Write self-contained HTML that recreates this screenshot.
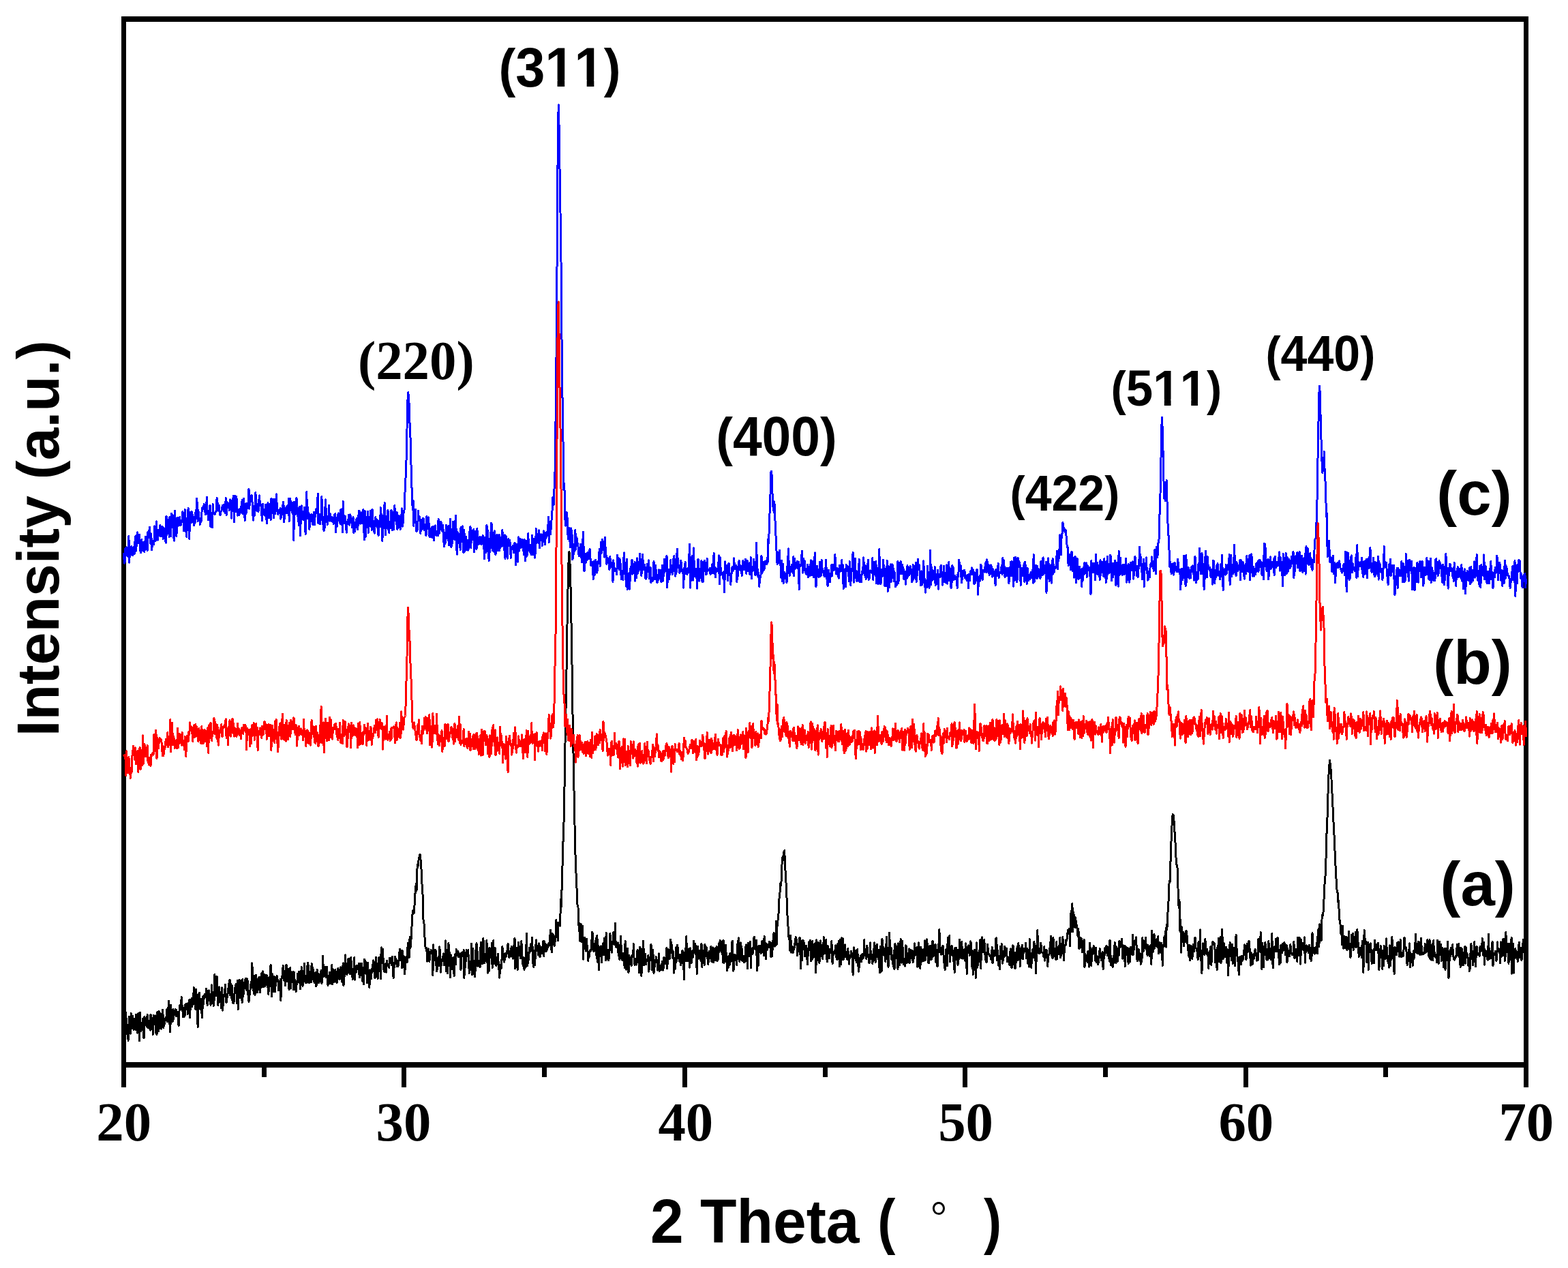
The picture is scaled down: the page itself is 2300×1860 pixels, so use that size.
<!DOCTYPE html>
<html lang="en">
<head>
<meta charset="utf-8">
<title>XRD patterns</title>
<style>
html,body{margin:0;padding:0;background:#fff;}
body{width:2300px;height:1860px;overflow:hidden;}
svg{display:block;}
.sans{font-family:"Liberation Sans",Arial,Helvetica,sans-serif;font-weight:bold;}
.serif{font-family:"Liberation Serif","Times New Roman",Times,serif;font-weight:bold;}
.deg{font-family:"Liberation Serif","Times New Roman",serif;font-weight:normal;}
text{font-kerning:none;}
</style>
</head>
<body>
<svg width="2300" height="1860" viewBox="0 0 2300 1860">
<rect x="0" y="0" width="2300" height="1860" fill="#ffffff"/>
<g id="frame" fill="#000" shape-rendering="crispEdges">
<rect x="178" y="24" width="7" height="1542"/>
<rect x="2235" y="24" width="7" height="1542"/>
<rect x="178" y="24" width="2064" height="8"/>
<rect x="178" y="1558" width="2064" height="8"/>
<rect x="178.0" y="1562" width="7" height="33"/>
<rect x="383.7" y="1562" width="7" height="18"/>
<rect x="589.4" y="1562" width="7" height="33"/>
<rect x="795.1" y="1562" width="7" height="18"/>
<rect x="1000.8" y="1562" width="7" height="33"/>
<rect x="1206.5" y="1562" width="7" height="18"/>
<rect x="1412.2" y="1562" width="7" height="33"/>
<rect x="1617.9" y="1562" width="7" height="18"/>
<rect x="1823.6" y="1562" width="7" height="33"/>
<rect x="2029.3" y="1562" width="7" height="18"/>
<rect x="2235.0" y="1562" width="7" height="33"/>
</g>
<polyline id="curve-a" fill="none" stroke="#000000" stroke-width="3" stroke-linejoin="round" stroke-linecap="butt" shape-rendering="crispEdges" points="181.5,1509.2 182.3,1497.7 183.1,1511.4 184.0,1504.8 184.8,1485.5 185.6,1516.3 186.4,1503.1 187.3,1511.7 188.1,1526.2 188.9,1507.4 189.7,1491.2 190.6,1495.9 191.4,1516.3 192.2,1486.6 193.0,1507.2 193.8,1508.5 194.7,1490.1 195.5,1505.9 196.3,1510.5 197.1,1494.6 198.0,1498.0 198.8,1510.3 199.6,1488.2 200.4,1493.2 201.2,1515.1 202.1,1504.7 202.9,1486.6 203.7,1503.7 204.5,1526.9 205.4,1485.4 206.2,1512.9 207.0,1512.1 207.8,1500.7 208.7,1510.0 209.5,1494.5 210.3,1521.0 211.1,1522.9 211.9,1491.5 212.8,1499.3 213.6,1503.3 214.4,1494.0 215.2,1505.5 216.1,1488.7 216.9,1507.8 217.7,1497.1 218.5,1499.9 219.3,1505.9 220.2,1511.1 221.0,1488.0 221.8,1509.0 222.6,1509.8 223.5,1497.7 224.3,1517.3 225.1,1489.4 225.9,1491.8 226.8,1502.7 227.6,1489.7 228.4,1514.4 229.2,1499.8 230.0,1517.8 230.9,1484.3 231.7,1485.3 232.5,1512.5 233.3,1483.7 234.2,1509.0 235.0,1486.1 235.8,1498.8 236.6,1509.3 237.5,1494.4 238.3,1481.1 239.1,1488.8 239.9,1508.0 240.7,1496.4 241.6,1502.3 242.4,1494.6 243.2,1496.7 244.0,1490.7 244.9,1480.5 245.7,1498.9 246.5,1494.3 247.3,1468.0 248.1,1491.5 249.0,1502.7 249.8,1513.9 250.6,1474.0 251.4,1491.3 252.3,1496.2 253.1,1498.2 253.9,1480.4 254.7,1494.5 255.6,1482.9 256.4,1487.0 257.2,1480.7 258.0,1490.3 258.8,1481.5 259.7,1489.4 260.5,1484.3 261.3,1495.9 262.1,1504.7 263.0,1483.1 263.8,1474.8 264.6,1480.4 265.4,1476.4 266.2,1462.4 267.1,1482.2 267.9,1475.6 268.7,1491.8 269.5,1479.0 270.4,1491.3 271.2,1488.9 272.0,1473.3 272.8,1474.9 273.7,1472.1 274.5,1472.5 275.3,1487.4 276.1,1470.9 276.9,1471.6 277.8,1466.6 278.6,1492.6 279.4,1471.1 280.2,1473.1 281.1,1464.2 281.9,1476.9 282.7,1464.3 283.5,1465.3 284.4,1448.5 285.2,1452.8 286.0,1474.3 286.8,1480.8 287.6,1451.4 288.5,1472.9 289.3,1472.9 290.1,1506.8 290.9,1458.0 291.8,1461.5 292.6,1456.6 293.4,1478.8 294.2,1481.1 295.0,1465.0 295.9,1486.1 296.7,1492.8 297.5,1461.7 298.3,1473.6 299.2,1464.4 300.0,1458.8 300.8,1460.5 301.6,1462.9 302.5,1450.1 303.3,1464.2 304.1,1474.5 304.9,1453.3 305.7,1458.0 306.6,1453.0 307.4,1468.2 308.2,1462.1 309.0,1474.2 309.9,1458.9 310.7,1444.8 311.5,1468.9 312.3,1458.2 313.1,1475.2 314.0,1469.8 314.8,1429.3 315.6,1436.9 316.4,1460.6 317.3,1450.9 318.1,1432.7 318.9,1452.9 319.7,1474.5 320.6,1466.4 321.4,1447.8 322.2,1461.6 323.0,1470.1 323.8,1455.5 324.7,1478.7 325.5,1448.7 326.3,1482.2 327.1,1475.1 328.0,1462.7 328.8,1459.0 329.6,1456.5 330.4,1444.6 331.2,1467.4 332.1,1470.7 332.9,1464.6 333.7,1458.4 334.5,1456.1 335.4,1443.5 336.2,1446.6 337.0,1436.9 337.8,1459.9 338.7,1443.0 339.5,1463.7 340.3,1445.5 341.1,1470.3 341.9,1471.9 342.8,1471.3 343.6,1466.4 344.4,1448.8 345.2,1448.5 346.1,1443.3 346.9,1455.9 347.7,1471.8 348.5,1438.5 349.4,1480.4 350.2,1444.3 351.0,1436.9 351.8,1454.8 352.6,1463.5 353.5,1446.1 354.3,1437.9 355.1,1471.0 355.9,1436.6 356.8,1461.5 357.6,1451.2 358.4,1444.7 359.2,1449.6 360.0,1435.7 360.9,1435.3 361.7,1452.1 362.5,1435.8 363.3,1438.8 364.2,1465.2 365.0,1469.2 365.8,1460.7 366.6,1458.0 367.5,1444.0 368.3,1448.0 369.1,1437.8 369.9,1412.8 370.7,1448.7 371.6,1448.8 372.4,1457.8 373.2,1431.3 374.0,1459.3 374.9,1438.9 375.7,1430.3 376.5,1441.8 377.3,1455.9 378.1,1444.4 379.0,1449.7 379.8,1433.6 380.6,1449.7 381.4,1455.6 382.3,1433.0 383.1,1448.5 383.9,1427.1 384.7,1445.8 385.6,1424.9 386.4,1447.6 387.2,1442.5 388.0,1428.9 388.8,1446.5 389.7,1430.2 390.5,1442.8 391.3,1430.7 392.1,1447.9 393.0,1434.6 393.8,1458.3 394.6,1446.4 395.4,1447.2 396.3,1424.7 397.1,1415.5 397.9,1430.7 398.7,1461.8 399.5,1428.7 400.4,1454.4 401.2,1454.7 402.0,1432.4 402.8,1436.7 403.7,1454.8 404.5,1435.9 405.3,1433.9 406.1,1431.7 406.9,1439.3 407.8,1436.9 408.6,1452.8 409.4,1440.7 410.2,1451.8 411.1,1436.2 411.9,1467.4 412.7,1435.8 413.5,1435.2 414.4,1427.2 415.2,1416.4 416.0,1426.1 416.8,1438.8 417.6,1424.2 418.5,1445.9 419.3,1416.3 420.1,1415.6 420.9,1439.1 421.8,1439.9 422.6,1421.6 423.4,1448.0 424.2,1451.4 425.0,1439.1 425.9,1419.2 426.7,1449.4 427.5,1430.9 428.3,1432.1 429.2,1439.9 430.0,1425.6 430.8,1451.9 431.6,1426.3 432.5,1446.4 433.3,1442.8 434.1,1454.6 434.9,1439.4 435.7,1443.6 436.6,1428.5 437.4,1430.3 438.2,1425.8 439.0,1442.0 439.9,1425.1 440.7,1450.9 441.5,1431.4 442.3,1418.5 443.2,1424.6 444.0,1446.4 444.8,1426.7 445.6,1439.4 446.4,1413.4 447.3,1437.6 448.1,1441.3 448.9,1438.1 449.7,1441.4 450.6,1420.2 451.4,1412.1 452.2,1416.1 453.0,1441.7 453.8,1436.4 454.7,1441.2 455.5,1424.8 456.3,1441.0 457.1,1413.0 458.0,1436.2 458.8,1418.8 459.6,1426.0 460.4,1438.9 461.3,1441.4 462.1,1429.0 462.9,1426.6 463.7,1446.9 464.5,1443.1 465.4,1422.6 466.2,1434.0 467.0,1428.0 467.8,1442.0 468.7,1435.8 469.5,1435.4 470.3,1431.3 471.1,1423.7 471.9,1443.1 472.8,1434.9 473.6,1402.4 474.4,1425.3 475.2,1432.9 476.1,1420.9 476.9,1418.6 477.7,1421.9 478.5,1433.6 479.4,1418.0 480.2,1433.6 481.0,1445.3 481.8,1440.4 482.6,1440.7 483.5,1426.4 484.3,1443.0 485.1,1429.1 485.9,1439.2 486.8,1415.2 487.6,1443.5 488.4,1421.6 489.2,1428.8 490.1,1440.9 490.9,1428.3 491.7,1422.6 492.5,1426.2 493.3,1441.0 494.2,1441.1 495.0,1435.7 495.8,1420.2 496.6,1422.8 497.5,1435.4 498.3,1436.3 499.1,1418.9 499.9,1418.9 500.7,1435.5 501.6,1440.1 502.4,1428.0 503.2,1412.8 504.0,1445.8 504.9,1427.2 505.7,1432.2 506.5,1401.0 507.3,1417.8 508.2,1424.0 509.0,1429.9 509.8,1415.4 510.6,1407.6 511.4,1406.1 512.3,1421.0 513.1,1428.9 513.9,1428.2 514.7,1404.6 515.6,1416.6 516.4,1423.7 517.2,1436.5 518.0,1431.2 518.8,1427.6 519.7,1404.5 520.5,1437.2 521.3,1423.1 522.1,1426.7 523.0,1416.0 523.8,1421.5 524.6,1419.8 525.4,1418.8 526.3,1413.1 527.1,1431.4 527.9,1434.0 528.7,1416.8 529.5,1413.2 530.4,1413.2 531.2,1419.2 532.0,1439.5 532.8,1420.9 533.7,1443.9 534.5,1407.2 535.3,1409.1 536.1,1412.5 536.9,1411.5 537.8,1425.3 538.6,1441.9 539.4,1412.4 540.2,1425.0 541.1,1436.5 541.9,1449.0 542.7,1422.9 543.5,1431.9 544.4,1435.8 545.2,1421.1 546.0,1426.5 546.8,1415.5 547.6,1409.0 548.5,1412.3 549.3,1432.7 550.1,1434.8 550.9,1421.7 551.8,1404.1 552.6,1432.9 553.4,1418.2 554.2,1435.7 555.1,1419.0 555.9,1404.0 556.7,1414.1 557.5,1409.3 558.3,1435.8 559.2,1389.9 560.0,1409.6 560.8,1412.7 561.6,1392.0 562.5,1421.0 563.3,1423.0 564.1,1425.6 564.9,1425.1 565.7,1413.9 566.6,1426.0 567.4,1409.3 568.2,1414.7 569.0,1416.7 569.9,1414.7 570.7,1419.6 571.5,1405.6 572.3,1411.6 573.2,1405.8 574.0,1413.3 574.8,1415.9 575.6,1403.1 576.4,1428.8 577.3,1434.4 578.1,1417.8 578.9,1412.0 579.7,1403.2 580.6,1408.3 581.4,1407.5 582.2,1417.9 583.0,1409.3 583.8,1417.4 584.7,1415.4 585.5,1402.7 586.3,1392.3 587.1,1393.6 588.0,1394.5 588.8,1406.3 589.6,1420.0 590.4,1394.6 591.3,1412.5 592.1,1402.0 592.9,1418.1 593.7,1428.7 594.5,1413.7 595.4,1403.8 596.2,1404.3 597.0,1411.9 597.8,1391.1 598.7,1383.1 599.5,1391.3 600.3,1404.5 601.1,1374.2 602.0,1390.5 602.8,1382.8 603.6,1365.0 604.4,1352.7 605.2,1337.3 606.1,1335.1 606.9,1340.1 607.7,1336.5 608.5,1315.4 609.4,1306.8 610.2,1296.3 611.0,1306.5 611.8,1275.9 612.6,1268.2 613.5,1270.3 614.3,1258.0 615.1,1258.7 615.9,1253.0 616.8,1257.8 617.6,1270.0 618.4,1279.8 619.2,1301.6 620.1,1313.1 620.9,1348.6 621.7,1352.5 622.5,1358.2 623.3,1383.9 624.2,1390.8 625.0,1391.4 625.8,1390.8 626.6,1410.1 627.5,1392.9 628.3,1391.9 629.1,1400.3 629.9,1410.3 630.7,1400.2 631.6,1397.8 632.4,1393.6 633.2,1396.7 634.0,1398.6 634.9,1430.5 635.7,1385.8 636.5,1401.8 637.3,1408.2 638.2,1397.1 639.0,1393.6 639.8,1414.5 640.6,1424.5 641.4,1421.3 642.3,1408.5 643.1,1403.1 643.9,1416.3 644.7,1388.8 645.6,1398.5 646.4,1426.2 647.2,1413.8 648.0,1410.7 648.9,1406.6 649.7,1404.3 650.5,1398.8 651.3,1415.9 652.1,1415.1 653.0,1415.3 653.8,1379.9 654.6,1424.5 655.4,1419.5 656.3,1428.0 657.1,1402.6 657.9,1383.3 658.7,1393.8 659.5,1398.8 660.4,1433.5 661.2,1400.4 662.0,1403.9 662.8,1421.5 663.7,1420.3 664.5,1421.2 665.3,1404.0 666.1,1432.0 667.0,1414.4 667.8,1399.5 668.6,1414.5 669.4,1392.7 670.2,1394.7 671.1,1401.5 671.9,1395.4 672.7,1403.7 673.5,1401.8 674.4,1404.0 675.2,1399.2 676.0,1423.0 676.8,1397.6 677.6,1403.1 678.5,1398.5 679.3,1402.3 680.1,1393.8 680.9,1434.5 681.8,1405.9 682.6,1418.9 683.4,1404.5 684.2,1393.2 685.1,1402.5 685.9,1400.3 686.7,1393.6 687.5,1409.5 688.3,1427.4 689.2,1410.1 690.0,1420.1 690.8,1423.0 691.6,1384.1 692.5,1429.9 693.3,1391.1 694.1,1428.7 694.9,1409.1 695.8,1413.5 696.6,1432.6 697.4,1418.5 698.2,1386.5 699.0,1383.9 699.9,1390.9 700.7,1417.2 701.5,1408.8 702.3,1415.6 703.2,1409.8 704.0,1419.1 704.8,1392.0 705.6,1382.2 706.4,1396.1 707.3,1413.9 708.1,1392.0 708.9,1376.0 709.7,1397.6 710.6,1412.4 711.4,1409.2 712.2,1400.2 713.0,1398.3 713.9,1379.2 714.7,1404.2 715.5,1427.2 716.3,1398.7 717.1,1424.3 718.0,1390.0 718.8,1400.0 719.6,1399.3 720.4,1404.9 721.3,1383.7 722.1,1419.6 722.9,1401.6 723.7,1379.6 724.5,1413.4 725.4,1407.5 726.2,1390.7 727.0,1404.8 727.8,1416.2 728.7,1415.1 729.5,1411.1 730.3,1399.3 731.1,1411.0 732.0,1423.3 732.8,1434.2 733.6,1416.0 734.4,1418.4 735.2,1420.5 736.1,1405.9 736.9,1388.0 737.7,1402.1 738.5,1406.4 739.4,1411.1 740.2,1407.9 741.0,1398.6 741.8,1400.2 742.6,1403.3 743.5,1395.1 744.3,1395.1 745.1,1383.9 745.9,1399.7 746.8,1404.7 747.6,1395.1 748.4,1399.3 749.2,1403.1 750.1,1388.6 750.9,1393.6 751.7,1390.1 752.5,1406.2 753.3,1387.1 754.2,1400.7 755.0,1375.9 755.8,1420.9 756.6,1406.5 757.5,1390.2 758.3,1399.2 759.1,1422.6 759.9,1401.1 760.8,1382.1 761.6,1399.4 762.4,1394.0 763.2,1406.0 764.0,1401.9 764.9,1380.7 765.7,1402.8 766.5,1411.6 767.3,1416.8 768.2,1404.1 769.0,1422.2 769.8,1417.2 770.6,1409.0 771.4,1418.1 772.3,1369.2 773.1,1414.2 773.9,1416.3 774.7,1397.5 775.6,1408.3 776.4,1390.3 777.2,1395.9 778.0,1395.4 778.9,1384.7 779.7,1394.3 780.5,1375.3 781.3,1394.5 782.1,1416.2 783.0,1418.2 783.8,1394.9 784.6,1415.7 785.4,1399.4 786.3,1378.8 787.1,1386.3 787.9,1392.7 788.7,1392.8 789.5,1400.5 790.4,1383.8 791.2,1387.0 792.0,1404.0 792.8,1392.8 793.7,1395.7 794.5,1389.7 795.3,1398.5 796.1,1398.7 797.0,1380.0 797.8,1402.6 798.6,1380.8 799.4,1392.3 800.2,1384.1 801.1,1395.2 801.9,1390.1 802.7,1393.2 803.5,1387.5 804.4,1383.9 805.2,1387.2 806.0,1384.0 806.8,1373.7 807.7,1364.3 808.5,1388.7 809.3,1397.0 810.1,1369.2 810.9,1386.0 811.8,1371.7 812.6,1380.2 813.4,1387.4 814.2,1379.9 815.1,1371.3 815.9,1349.2 816.7,1368.0 817.5,1367.7 818.3,1379.9 819.2,1353.2 820.0,1355.7 820.8,1353.2 821.6,1358.2 822.5,1319.1 823.3,1330.0 824.1,1302.5 824.9,1275.0 825.8,1241.4 826.6,1215.0 827.4,1197.7 828.2,1141.2 829.0,1090.2 829.9,1044.4 830.7,1004.1 831.5,947.6 832.3,896.6 833.2,855.1 834.0,824.9 834.8,809.5 835.6,812.8 836.4,839.8 837.3,871.8 838.1,918.6 838.9,966.3 839.7,1026.8 840.6,1087.3 841.4,1120.9 842.2,1171.4 843.0,1210.1 843.9,1250.9 844.7,1271.7 845.5,1295.5 846.3,1306.7 847.1,1328.8 848.0,1331.2 848.8,1357.3 849.6,1353.7 850.4,1380.1 851.3,1356.6 852.1,1355.7 852.9,1381.4 853.7,1380.3 854.6,1358.3 855.4,1407.2 856.2,1375.6 857.0,1392.1 857.8,1375.3 858.7,1389.2 859.5,1395.1 860.3,1377.0 861.1,1387.7 862.0,1394.7 862.8,1409.4 863.6,1397.4 864.4,1403.0 865.2,1393.9 866.1,1395.8 866.9,1394.8 867.7,1386.1 868.5,1367.2 869.4,1369.4 870.2,1394.0 871.0,1395.9 871.8,1391.3 872.7,1383.9 873.5,1385.2 874.3,1376.3 875.1,1405.7 875.9,1372.1 876.8,1411.7 877.6,1387.3 878.4,1423.0 879.2,1398.8 880.1,1389.5 880.9,1394.9 881.7,1387.9 882.5,1411.9 883.3,1393.6 884.2,1396.8 885.0,1383.6 885.8,1401.0 886.6,1376.3 887.5,1386.0 888.3,1408.7 889.1,1368.8 889.9,1396.7 890.8,1406.7 891.6,1393.5 892.4,1408.9 893.2,1405.6 894.0,1395.6 894.9,1369.7 895.7,1381.9 896.5,1382.5 897.3,1397.2 898.2,1383.2 899.0,1380.0 899.8,1367.5 900.6,1380.2 901.5,1385.4 902.3,1354.2 903.1,1383.4 903.9,1389.8 904.7,1383.5 905.6,1386.3 906.4,1382.8 907.2,1401.6 908.0,1385.9 908.9,1407.9 909.7,1399.2 910.5,1373.4 911.3,1393.5 912.1,1401.3 913.0,1408.7 913.8,1400.8 914.6,1398.5 915.4,1410.2 916.3,1419.9 917.1,1380.0 917.9,1394.4 918.7,1422.2 919.6,1405.9 920.4,1391.2 921.2,1423.5 922.0,1426.8 922.8,1401.0 923.7,1412.9 924.5,1404.4 925.3,1408.7 926.1,1416.2 927.0,1401.6 927.8,1404.0 928.6,1401.4 929.4,1384.7 930.2,1410.7 931.1,1415.3 931.9,1407.4 932.7,1406.1 933.5,1415.3 934.4,1397.4 935.2,1393.3 936.0,1411.3 936.8,1407.8 937.7,1426.8 938.5,1389.2 939.3,1405.6 940.1,1391.6 940.9,1431.6 941.8,1401.5 942.6,1415.5 943.4,1380.0 944.2,1395.0 945.1,1415.6 945.9,1401.7 946.7,1399.3 947.5,1414.8 948.3,1408.1 949.2,1408.3 950.0,1410.0 950.8,1401.2 951.6,1425.2 952.5,1419.2 953.3,1405.5 954.1,1402.8 954.9,1385.2 955.8,1393.8 956.6,1423.0 957.4,1393.3 958.2,1402.4 959.0,1427.2 959.9,1420.1 960.7,1411.5 961.5,1412.3 962.3,1403.7 963.2,1409.6 964.0,1408.0 964.8,1423.2 965.6,1416.6 966.5,1398.9 967.3,1424.3 968.1,1417.6 968.9,1420.9 969.7,1422.6 970.6,1416.9 971.4,1410.1 972.2,1423.1 973.0,1421.4 973.9,1404.7 974.7,1405.5 975.5,1410.5 976.3,1413.4 977.1,1406.6 978.0,1390.6 978.8,1420.9 979.6,1398.8 980.4,1392.8 981.3,1396.3 982.1,1406.7 982.9,1403.1 983.7,1378.3 984.6,1386.9 985.4,1386.2 986.2,1395.8 987.0,1406.0 987.8,1396.6 988.7,1427.2 989.5,1414.3 990.3,1421.1 991.1,1412.4 992.0,1388.9 992.8,1409.3 993.6,1386.1 994.4,1391.6 995.2,1405.9 996.1,1403.7 996.9,1410.4 997.7,1400.0 998.5,1415.6 999.4,1412.4 1000.2,1406.9 1001.0,1394.2 1001.8,1395.7 1002.7,1415.0 1003.5,1436.4 1004.3,1397.0 1005.1,1404.5 1005.9,1392.0 1006.8,1373.3 1007.6,1409.4 1008.4,1403.9 1009.2,1410.0 1010.1,1394.4 1010.9,1391.9 1011.7,1419.2 1012.5,1390.7 1013.4,1409.7 1014.2,1412.7 1015.0,1401.3 1015.8,1394.7 1016.6,1404.1 1017.5,1380.4 1018.3,1397.8 1019.1,1396.7 1019.9,1384.4 1020.8,1397.6 1021.6,1411.5 1022.4,1428.3 1023.2,1388.0 1024.0,1406.2 1024.9,1406.0 1025.7,1397.5 1026.5,1394.3 1027.3,1406.9 1028.2,1409.6 1029.0,1384.1 1029.8,1418.8 1030.6,1399.3 1031.5,1402.2 1032.3,1394.2 1033.1,1415.4 1033.9,1385.2 1034.7,1395.2 1035.6,1402.4 1036.4,1389.9 1037.2,1397.8 1038.0,1406.6 1038.9,1414.4 1039.7,1398.5 1040.5,1395.1 1041.3,1406.0 1042.1,1401.8 1043.0,1388.3 1043.8,1410.6 1044.6,1397.1 1045.4,1389.9 1046.3,1411.8 1047.1,1407.1 1047.9,1391.2 1048.7,1408.3 1049.6,1392.1 1050.4,1393.7 1051.2,1388.4 1052.0,1410.1 1052.8,1398.4 1053.7,1406.9 1054.5,1384.6 1055.3,1394.7 1056.1,1379.8 1057.0,1391.8 1057.8,1394.6 1058.6,1396.9 1059.4,1380.9 1060.3,1411.3 1061.1,1379.5 1061.9,1412.7 1062.7,1397.1 1063.5,1410.9 1064.4,1386.4 1065.2,1399.7 1066.0,1405.0 1066.8,1423.9 1067.7,1403.2 1068.5,1419.1 1069.3,1402.6 1070.1,1415.2 1070.9,1398.7 1071.8,1400.0 1072.6,1410.1 1073.4,1384.3 1074.2,1380.0 1075.1,1401.2 1075.9,1424.2 1076.7,1416.3 1077.5,1400.2 1078.4,1406.4 1079.2,1401.6 1080.0,1403.6 1080.8,1415.7 1081.6,1385.3 1082.5,1384.7 1083.3,1375.8 1084.1,1388.2 1084.9,1410.5 1085.8,1397.5 1086.6,1382.7 1087.4,1390.4 1088.2,1392.2 1089.0,1409.8 1089.9,1403.3 1090.7,1402.2 1091.5,1411.9 1092.3,1403.7 1093.2,1410.3 1094.0,1387.9 1094.8,1386.0 1095.6,1392.6 1096.5,1420.9 1097.3,1383.3 1098.1,1398.7 1098.9,1402.5 1099.7,1384.9 1100.6,1381.4 1101.4,1420.0 1102.2,1393.9 1103.0,1391.1 1103.9,1399.5 1104.7,1396.3 1105.5,1377.8 1106.3,1374.0 1107.2,1391.9 1108.0,1384.8 1108.8,1393.2 1109.6,1379.6 1110.4,1423.9 1111.3,1398.9 1112.1,1417.1 1112.9,1387.6 1113.7,1392.1 1114.6,1387.6 1115.4,1394.2 1116.2,1398.5 1117.0,1387.2 1117.8,1380.5 1118.7,1384.6 1119.5,1390.1 1120.3,1401.9 1121.1,1373.4 1122.0,1382.1 1122.8,1395.6 1123.6,1406.4 1124.4,1384.9 1125.3,1393.2 1126.1,1386.9 1126.9,1385.7 1127.7,1389.9 1128.5,1381.3 1129.4,1384.1 1130.2,1382.6 1131.0,1403.7 1131.8,1384.1 1132.7,1402.6 1133.5,1380.3 1134.3,1381.7 1135.1,1368.0 1135.9,1377.3 1136.8,1388.1 1137.6,1386.6 1138.4,1351.5 1139.2,1385.9 1140.1,1355.7 1140.9,1350.6 1141.7,1347.2 1142.5,1328.7 1143.4,1310.8 1144.2,1308.6 1145.0,1294.7 1145.8,1298.5 1146.6,1276.3 1147.5,1257.7 1148.3,1262.5 1149.1,1254.2 1149.9,1249.9 1150.8,1247.8 1151.6,1274.3 1152.4,1279.4 1153.2,1299.5 1154.0,1316.9 1154.9,1341.4 1155.7,1352.9 1156.5,1368.3 1157.3,1378.1 1158.2,1378.2 1159.0,1394.7 1159.8,1372.1 1160.6,1397.1 1161.5,1391.8 1162.3,1388.8 1163.1,1397.9 1163.9,1393.0 1164.7,1393.1 1165.6,1385.6 1166.4,1381.5 1167.2,1374.3 1168.0,1377.3 1168.9,1384.7 1169.7,1401.9 1170.5,1389.9 1171.3,1394.4 1172.2,1380.4 1173.0,1375.0 1173.8,1394.1 1174.6,1420.6 1175.4,1380.1 1176.3,1408.9 1177.1,1379.6 1177.9,1379.1 1178.7,1382.4 1179.6,1383.2 1180.4,1402.9 1181.2,1395.5 1182.0,1394.2 1182.8,1387.0 1183.7,1404.0 1184.5,1414.7 1185.3,1396.9 1186.1,1389.3 1187.0,1381.4 1187.8,1390.0 1188.6,1379.3 1189.4,1409.8 1190.3,1385.3 1191.1,1407.9 1191.9,1380.2 1192.7,1404.8 1193.5,1401.7 1194.4,1403.9 1195.2,1398.6 1196.0,1382.9 1196.8,1427.0 1197.7,1378.8 1198.5,1408.4 1199.3,1393.2 1200.1,1382.5 1200.9,1404.7 1201.8,1412.3 1202.6,1407.5 1203.4,1379.9 1204.2,1386.7 1205.1,1402.2 1205.9,1400.2 1206.7,1406.5 1207.5,1393.0 1208.4,1374.6 1209.2,1380.8 1210.0,1398.2 1210.8,1382.7 1211.6,1378.6 1212.5,1401.9 1213.3,1410.9 1214.1,1387.2 1214.9,1392.6 1215.8,1393.5 1216.6,1405.7 1217.4,1392.0 1218.2,1392.0 1219.1,1394.5 1219.9,1380.7 1220.7,1410.6 1221.5,1413.4 1222.3,1396.0 1223.2,1396.9 1224.0,1398.1 1224.8,1396.0 1225.6,1386.9 1226.5,1403.6 1227.3,1404.3 1228.1,1407.9 1228.9,1384.3 1229.7,1398.0 1230.6,1380.5 1231.4,1417.5 1232.2,1378.1 1233.0,1394.4 1233.9,1414.5 1234.7,1375.9 1235.5,1397.7 1236.3,1376.7 1237.2,1407.4 1238.0,1392.4 1238.8,1389.9 1239.6,1385.9 1240.4,1403.4 1241.3,1399.0 1242.1,1405.9 1242.9,1407.7 1243.7,1391.5 1244.6,1401.8 1245.4,1414.2 1246.2,1405.3 1247.0,1404.5 1247.8,1401.3 1248.7,1395.1 1249.5,1400.9 1250.3,1400.2 1251.1,1430.2 1252.0,1398.0 1252.8,1389.8 1253.6,1406.0 1254.4,1399.0 1255.3,1394.4 1256.1,1411.5 1256.9,1399.9 1257.7,1392.6 1258.5,1408.9 1259.4,1425.2 1260.2,1417.7 1261.0,1405.3 1261.8,1405.9 1262.7,1401.9 1263.5,1410.7 1264.3,1399.9 1265.1,1406.5 1266.0,1400.4 1266.8,1404.7 1267.6,1378.7 1268.4,1402.0 1269.2,1395.5 1270.1,1398.2 1270.9,1406.5 1271.7,1387.1 1272.5,1391.7 1273.4,1403.9 1274.2,1402.6 1275.0,1412.6 1275.8,1405.9 1276.6,1382.9 1277.5,1406.6 1278.3,1400.0 1279.1,1403.4 1279.9,1413.6 1280.8,1403.0 1281.6,1399.4 1282.4,1382.9 1283.2,1396.5 1284.1,1411.3 1284.9,1407.9 1285.7,1387.3 1286.5,1385.4 1287.3,1397.0 1288.2,1406.9 1289.0,1392.9 1289.8,1417.5 1290.6,1426.6 1291.5,1388.3 1292.3,1425.4 1293.1,1424.3 1293.9,1377.4 1294.7,1382.0 1295.6,1399.4 1296.4,1401.2 1297.2,1391.1 1298.0,1401.1 1298.9,1410.3 1299.7,1390.6 1300.5,1374.4 1301.3,1397.2 1302.2,1410.3 1303.0,1418.3 1303.8,1413.5 1304.6,1368.2 1305.4,1386.7 1306.3,1399.5 1307.1,1390.7 1307.9,1407.3 1308.7,1406.2 1309.6,1411.3 1310.4,1417.9 1311.2,1394.6 1312.0,1422.0 1312.8,1384.6 1313.7,1388.6 1314.5,1388.2 1315.3,1390.7 1316.1,1409.2 1317.0,1421.2 1317.8,1383.8 1318.6,1410.1 1319.4,1415.7 1320.3,1404.9 1321.1,1377.5 1321.9,1406.9 1322.7,1412.3 1323.5,1380.4 1324.4,1395.8 1325.2,1414.3 1326.0,1405.9 1326.8,1415.3 1327.7,1417.1 1328.5,1386.9 1329.3,1387.6 1330.1,1412.6 1331.0,1397.9 1331.8,1412.0 1332.6,1408.4 1333.4,1391.8 1334.2,1412.6 1335.1,1406.7 1335.9,1393.7 1336.7,1395.0 1337.5,1394.1 1338.4,1404.3 1339.2,1411.9 1340.0,1406.9 1340.8,1398.2 1341.6,1383.7 1342.5,1401.2 1343.3,1398.7 1344.1,1392.0 1344.9,1389.1 1345.8,1418.2 1346.6,1417.5 1347.4,1382.8 1348.2,1411.0 1349.1,1403.9 1349.9,1420.6 1350.7,1389.3 1351.5,1410.7 1352.3,1392.3 1353.2,1396.0 1354.0,1401.2 1354.8,1409.9 1355.6,1400.1 1356.5,1380.0 1357.3,1408.3 1358.1,1398.3 1358.9,1395.5 1359.7,1377.8 1360.6,1393.0 1361.4,1412.0 1362.2,1413.0 1363.0,1403.7 1363.9,1387.6 1364.7,1407.3 1365.5,1387.9 1366.3,1407.5 1367.2,1391.7 1368.0,1379.9 1368.8,1403.2 1369.6,1400.4 1370.4,1400.4 1371.3,1387.3 1372.1,1385.5 1372.9,1411.2 1373.7,1397.3 1374.6,1417.3 1375.4,1417.3 1376.2,1385.0 1377.0,1393.5 1377.9,1363.1 1378.7,1396.7 1379.5,1389.7 1380.3,1400.2 1381.1,1393.4 1382.0,1391.1 1382.8,1387.7 1383.6,1388.2 1384.4,1411.9 1385.3,1405.1 1386.1,1423.1 1386.9,1406.9 1387.7,1392.8 1388.5,1391.8 1389.4,1416.8 1390.2,1375.1 1391.0,1398.7 1391.8,1395.6 1392.7,1372.6 1393.5,1410.6 1394.3,1397.9 1395.1,1395.1 1396.0,1387.4 1396.8,1397.1 1397.6,1396.1 1398.4,1409.8 1399.2,1393.8 1400.1,1426.7 1400.9,1390.7 1401.7,1399.6 1402.5,1390.3 1403.4,1408.1 1404.2,1393.0 1405.0,1415.3 1405.8,1410.3 1406.6,1403.3 1407.5,1378.4 1408.3,1398.1 1409.1,1397.2 1409.9,1405.6 1410.8,1381.3 1411.6,1405.7 1412.4,1406.2 1413.2,1397.1 1414.1,1401.4 1414.9,1392.1 1415.7,1409.2 1416.5,1383.8 1417.3,1389.8 1418.2,1428.5 1419.0,1397.2 1419.8,1397.5 1420.6,1386.9 1421.5,1395.0 1422.3,1401.3 1423.1,1384.1 1423.9,1380.9 1424.8,1393.3 1425.6,1417.4 1426.4,1394.9 1427.2,1429.5 1428.0,1413.1 1428.9,1406.4 1429.7,1393.1 1430.5,1405.0 1431.3,1434.3 1432.2,1382.9 1433.0,1403.6 1433.8,1419.2 1434.6,1410.8 1435.4,1400.5 1436.3,1393.8 1437.1,1410.2 1437.9,1378.0 1438.7,1420.5 1439.6,1388.8 1440.4,1374.9 1441.2,1395.0 1442.0,1396.7 1442.9,1394.2 1443.7,1378.7 1444.5,1389.2 1445.3,1407.3 1446.1,1402.6 1447.0,1412.1 1447.8,1400.3 1448.6,1385.4 1449.4,1394.7 1450.3,1399.3 1451.1,1401.2 1451.9,1402.2 1452.7,1401.8 1453.5,1406.9 1454.4,1407.4 1455.2,1389.1 1456.0,1412.5 1456.8,1406.7 1457.7,1394.5 1458.5,1401.1 1459.3,1396.2 1460.1,1401.2 1461.0,1376.4 1461.8,1376.0 1462.6,1408.6 1463.4,1394.2 1464.2,1414.9 1465.1,1416.7 1465.9,1402.7 1466.7,1421.6 1467.5,1388.1 1468.4,1401.8 1469.2,1384.3 1470.0,1401.8 1470.8,1413.2 1471.7,1401.9 1472.5,1403.6 1473.3,1388.0 1474.1,1402.9 1474.9,1390.6 1475.8,1401.2 1476.6,1391.2 1477.4,1410.9 1478.2,1407.2 1479.1,1404.8 1479.9,1409.9 1480.7,1415.4 1481.5,1400.3 1482.3,1391.8 1483.2,1392.8 1484.0,1420.0 1484.8,1404.5 1485.6,1386.9 1486.5,1387.6 1487.3,1414.5 1488.1,1397.1 1488.9,1420.7 1489.8,1418.2 1490.6,1396.9 1491.4,1396.4 1492.2,1388.7 1493.0,1408.8 1493.9,1383.0 1494.7,1404.7 1495.5,1394.8 1496.3,1417.4 1497.2,1394.8 1498.0,1389.8 1498.8,1406.0 1499.6,1386.6 1500.4,1406.9 1501.3,1395.0 1502.1,1391.5 1502.9,1394.6 1503.7,1395.5 1504.6,1383.5 1505.4,1405.4 1506.2,1397.6 1507.0,1391.2 1507.9,1414.1 1508.7,1401.5 1509.5,1418.3 1510.3,1377.5 1511.1,1415.2 1512.0,1400.9 1512.8,1419.5 1513.6,1400.6 1514.4,1393.9 1515.3,1392.2 1516.1,1404.5 1516.9,1381.0 1517.7,1395.3 1518.5,1387.6 1519.4,1427.5 1520.2,1405.8 1521.0,1396.3 1521.8,1364.2 1522.7,1397.9 1523.5,1391.7 1524.3,1398.2 1525.1,1399.0 1526.0,1390.0 1526.8,1383.1 1527.6,1395.0 1528.4,1397.0 1529.2,1397.8 1530.1,1398.2 1530.9,1403.5 1531.7,1388.6 1532.5,1409.1 1533.4,1393.8 1534.2,1400.7 1535.0,1393.2 1535.8,1401.7 1536.7,1417.5 1537.5,1404.5 1538.3,1400.6 1539.1,1400.1 1539.9,1391.6 1540.8,1383.7 1541.6,1373.4 1542.4,1399.4 1543.2,1404.0 1544.1,1406.0 1544.9,1374.9 1545.7,1387.6 1546.5,1402.2 1547.3,1391.8 1548.2,1405.4 1549.0,1407.8 1549.8,1381.2 1550.6,1406.6 1551.5,1395.0 1552.3,1389.9 1553.1,1399.4 1553.9,1387.5 1554.8,1375.2 1555.6,1404.7 1556.4,1400.6 1557.2,1399.8 1558.0,1394.7 1558.9,1374.8 1559.7,1390.4 1560.5,1408.9 1561.3,1392.4 1562.2,1386.4 1563.0,1386.9 1563.8,1379.0 1564.6,1379.3 1565.4,1376.0 1566.3,1364.6 1567.1,1366.7 1567.9,1364.8 1568.7,1362.1 1569.6,1387.5 1570.4,1350.2 1571.2,1336.4 1572.0,1346.8 1572.9,1325.5 1573.7,1366.8 1574.5,1337.7 1575.3,1343.6 1576.1,1349.6 1577.0,1360.6 1577.8,1345.9 1578.6,1360.3 1579.4,1357.1 1580.3,1362.9 1581.1,1374.0 1581.9,1362.5 1582.7,1391.3 1583.6,1375.4 1584.4,1390.2 1585.2,1375.4 1586.0,1384.1 1586.8,1376.9 1587.7,1397.0 1588.5,1389.1 1589.3,1382.6 1590.1,1378.7 1591.0,1418.8 1591.8,1399.1 1592.6,1402.9 1593.4,1409.9 1594.2,1401.8 1595.1,1412.0 1595.9,1395.6 1596.7,1400.7 1597.5,1418.1 1598.4,1383.5 1599.2,1399.9 1600.0,1390.6 1600.8,1416.8 1601.7,1394.4 1602.5,1400.3 1603.3,1399.4 1604.1,1387.7 1604.9,1394.0 1605.8,1390.1 1606.6,1409.2 1607.4,1390.1 1608.2,1411.9 1609.1,1402.5 1609.9,1408.5 1610.7,1414.8 1611.5,1409.9 1612.3,1404.3 1613.2,1391.2 1614.0,1397.2 1614.8,1400.5 1615.6,1408.4 1616.5,1399.5 1617.3,1396.5 1618.1,1421.8 1618.9,1404.9 1619.8,1405.7 1620.6,1390.9 1621.4,1392.8 1622.2,1393.3 1623.0,1387.1 1623.9,1398.6 1624.7,1401.8 1625.5,1389.7 1626.3,1392.2 1627.2,1410.2 1628.0,1379.2 1628.8,1396.2 1629.6,1415.8 1630.5,1408.4 1631.3,1406.3 1632.1,1419.0 1632.9,1414.8 1633.7,1407.3 1634.6,1390.7 1635.4,1382.7 1636.2,1388.1 1637.0,1412.8 1637.9,1389.7 1638.7,1391.6 1639.5,1410.2 1640.3,1393.4 1641.1,1401.4 1642.0,1380.4 1642.8,1389.7 1643.6,1389.1 1644.4,1387.8 1645.3,1377.0 1646.1,1386.1 1646.9,1406.2 1647.7,1397.6 1648.6,1405.3 1649.4,1387.1 1650.2,1417.8 1651.0,1388.3 1651.8,1391.4 1652.7,1400.8 1653.5,1390.1 1654.3,1397.9 1655.1,1414.0 1656.0,1402.1 1656.8,1391.1 1657.6,1410.9 1658.4,1389.3 1659.2,1391.0 1660.1,1399.7 1660.9,1400.5 1661.7,1371.2 1662.5,1400.2 1663.4,1389.5 1664.2,1380.1 1665.0,1379.9 1665.8,1380.6 1666.7,1374.9 1667.5,1404.3 1668.3,1409.8 1669.1,1392.0 1669.9,1393.3 1670.8,1393.8 1671.6,1407.5 1672.4,1398.7 1673.2,1414.8 1674.1,1399.9 1674.9,1411.2 1675.7,1375.6 1676.5,1382.2 1677.4,1395.4 1678.2,1391.0 1679.0,1383.6 1679.8,1380.1 1680.6,1375.3 1681.5,1393.3 1682.3,1388.6 1683.1,1402.1 1683.9,1386.3 1684.8,1393.6 1685.6,1399.6 1686.4,1402.7 1687.2,1386.9 1688.0,1392.8 1688.9,1414.4 1689.7,1365.3 1690.5,1396.7 1691.3,1396.5 1692.2,1389.0 1693.0,1370.6 1693.8,1391.1 1694.6,1383.2 1695.5,1385.4 1696.3,1381.0 1697.1,1377.1 1697.9,1389.5 1698.7,1373.7 1699.6,1398.7 1700.4,1390.2 1701.2,1382.5 1702.0,1388.7 1702.9,1397.6 1703.7,1383.1 1704.5,1396.4 1705.3,1416.5 1706.1,1386.7 1707.0,1389.0 1707.8,1374.7 1708.6,1379.2 1709.4,1366.5 1710.3,1389.2 1711.1,1356.2 1711.9,1363.6 1712.7,1339.5 1713.6,1335.5 1714.4,1309.8 1715.2,1292.0 1716.0,1294.6 1716.8,1270.0 1717.7,1242.5 1718.5,1220.3 1719.3,1205.9 1720.1,1194.8 1721.0,1195.4 1721.8,1203.1 1722.6,1207.0 1723.4,1232.7 1724.2,1237.5 1725.1,1260.5 1725.9,1268.4 1726.7,1268.8 1727.5,1280.1 1728.4,1320.7 1729.2,1332.0 1730.0,1320.8 1730.8,1365.3 1731.7,1348.9 1732.5,1397.3 1733.3,1359.5 1734.1,1381.3 1734.9,1374.4 1735.8,1367.2 1736.6,1387.4 1737.4,1370.2 1738.2,1369.3 1739.1,1381.2 1739.9,1365.3 1740.7,1367.2 1741.5,1380.6 1742.4,1388.4 1743.2,1397.3 1744.0,1403.3 1744.8,1386.3 1745.6,1409.0 1746.5,1393.2 1747.3,1387.5 1748.1,1402.7 1748.9,1406.4 1749.8,1390.8 1750.6,1385.4 1751.4,1396.0 1752.2,1390.7 1753.0,1374.9 1753.9,1391.1 1754.7,1390.9 1755.5,1393.5 1756.3,1397.2 1757.2,1407.8 1758.0,1381.8 1758.8,1394.8 1759.6,1402.8 1760.5,1364.0 1761.3,1409.2 1762.1,1396.4 1762.9,1428.1 1763.7,1404.5 1764.6,1383.9 1765.4,1396.1 1766.2,1391.5 1767.0,1400.6 1767.9,1377.0 1768.7,1398.5 1769.5,1392.0 1770.3,1392.2 1771.1,1401.4 1772.0,1397.7 1772.8,1420.4 1773.6,1400.0 1774.4,1405.5 1775.3,1388.8 1776.1,1388.4 1776.9,1415.5 1777.7,1389.9 1778.6,1381.9 1779.4,1381.7 1780.2,1386.0 1781.0,1383.0 1781.8,1387.0 1782.7,1411.9 1783.5,1394.0 1784.3,1403.4 1785.1,1422.4 1786.0,1388.8 1786.8,1389.4 1787.6,1376.1 1788.4,1410.3 1789.3,1401.1 1790.1,1374.8 1790.9,1412.5 1791.7,1409.0 1792.5,1363.4 1793.4,1381.7 1794.2,1406.3 1795.0,1383.3 1795.8,1392.6 1796.7,1403.4 1797.5,1399.8 1798.3,1389.3 1799.1,1404.4 1799.9,1413.0 1800.8,1392.9 1801.6,1430.4 1802.4,1405.6 1803.2,1402.9 1804.1,1382.8 1804.9,1385.7 1805.7,1387.2 1806.5,1409.0 1807.4,1385.2 1808.2,1413.6 1809.0,1409.7 1809.8,1390.2 1810.6,1396.8 1811.5,1416.9 1812.3,1387.9 1813.1,1370.9 1813.9,1389.8 1814.8,1400.5 1815.6,1410.3 1816.4,1405.0 1817.2,1430.0 1818.0,1412.4 1818.9,1403.7 1819.7,1414.3 1820.5,1414.9 1821.3,1402.5 1822.2,1409.8 1823.0,1407.5 1823.8,1402.3 1824.6,1399.4 1825.5,1385.9 1826.3,1397.5 1827.1,1387.6 1827.9,1407.6 1828.7,1399.8 1829.6,1384.2 1830.4,1396.5 1831.2,1394.2 1832.0,1380.4 1832.9,1389.7 1833.7,1399.2 1834.5,1416.1 1835.3,1397.6 1836.2,1404.3 1837.0,1414.5 1837.8,1411.6 1838.6,1399.8 1839.4,1405.5 1840.3,1394.9 1841.1,1392.9 1841.9,1397.1 1842.7,1398.9 1843.6,1409.1 1844.4,1405.2 1845.2,1408.4 1846.0,1377.0 1846.8,1392.0 1847.7,1395.1 1848.5,1381.4 1849.3,1367.7 1850.1,1401.4 1851.0,1421.7 1851.8,1383.5 1852.6,1397.7 1853.4,1418.5 1854.3,1394.3 1855.1,1393.3 1855.9,1382.0 1856.7,1394.3 1857.5,1406.3 1858.4,1408.0 1859.2,1392.7 1860.0,1407.6 1860.8,1380.7 1861.7,1389.2 1862.5,1398.7 1863.3,1398.8 1864.1,1407.8 1864.9,1392.6 1865.8,1369.6 1866.6,1409.7 1867.4,1419.8 1868.2,1401.2 1869.1,1392.0 1869.9,1388.8 1870.7,1395.7 1871.5,1377.1 1872.4,1395.7 1873.2,1389.4 1874.0,1374.9 1874.8,1394.9 1875.6,1399.4 1876.5,1415.0 1877.3,1393.6 1878.1,1412.9 1878.9,1386.5 1879.8,1388.3 1880.6,1397.8 1881.4,1384.0 1882.2,1394.8 1883.1,1383.0 1883.9,1382.5 1884.7,1386.6 1885.5,1400.9 1886.3,1392.0 1887.2,1386.1 1888.0,1411.5 1888.8,1391.4 1889.6,1401.5 1890.5,1396.7 1891.3,1402.7 1892.1,1392.4 1892.9,1385.1 1893.7,1397.0 1894.6,1398.0 1895.4,1400.6 1896.2,1399.1 1897.0,1398.4 1897.9,1381.1 1898.7,1405.1 1899.5,1405.0 1900.3,1392.1 1901.2,1396.6 1902.0,1395.1 1902.8,1410.6 1903.6,1375.4 1904.4,1390.7 1905.3,1401.4 1906.1,1375.0 1906.9,1386.4 1907.7,1414.2 1908.6,1378.1 1909.4,1392.9 1910.2,1383.2 1911.0,1391.4 1911.8,1383.6 1912.7,1394.3 1913.5,1375.0 1914.3,1412.2 1915.1,1396.6 1916.0,1396.1 1916.8,1386.8 1917.6,1394.2 1918.4,1388.8 1919.3,1397.8 1920.1,1386.7 1920.9,1386.4 1921.7,1406.5 1922.5,1402.6 1923.4,1409.3 1924.2,1400.5 1925.0,1368.7 1925.8,1394.2 1926.7,1397.8 1927.5,1390.7 1928.3,1399.2 1929.1,1398.4 1930.0,1388.9 1930.8,1390.7 1931.6,1383.4 1932.4,1398.5 1933.2,1365.6 1934.1,1362.9 1934.9,1388.9 1935.7,1355.8 1936.5,1377.6 1937.4,1370.1 1938.2,1379.6 1939.0,1348.6 1939.8,1341.5 1940.6,1342.9 1941.5,1332.1 1942.3,1311.9 1943.1,1295.2 1943.9,1286.5 1944.8,1272.6 1945.6,1223.0 1946.4,1222.5 1947.2,1192.0 1948.1,1161.3 1948.9,1138.2 1949.7,1124.5 1950.5,1115.3 1951.3,1120.6 1952.2,1129.6 1953.0,1143.4 1953.8,1161.5 1954.6,1170.3 1955.5,1199.7 1956.3,1209.2 1957.1,1227.3 1957.9,1245.6 1958.7,1262.4 1959.6,1283.9 1960.4,1294.0 1961.2,1308.2 1962.0,1309.3 1962.9,1323.9 1963.7,1321.7 1964.5,1349.2 1965.3,1349.9 1966.2,1357.8 1967.0,1370.3 1967.8,1362.7 1968.6,1385.9 1969.4,1358.5 1970.3,1391.1 1971.1,1388.9 1971.9,1373.5 1972.7,1383.3 1973.6,1390.9 1974.4,1374.0 1975.2,1384.4 1976.0,1393.4 1976.8,1388.5 1977.7,1379.2 1978.5,1366.6 1979.3,1392.3 1980.1,1393.9 1981.0,1404.4 1981.8,1395.6 1982.6,1371.4 1983.4,1374.1 1984.3,1369.2 1985.1,1393.8 1985.9,1384.2 1986.7,1388.4 1987.5,1380.5 1988.4,1367.6 1989.2,1389.7 1990.0,1367.0 1990.8,1363.3 1991.7,1375.4 1992.5,1392.2 1993.3,1403.3 1994.1,1392.3 1995.0,1390.5 1995.8,1394.9 1996.6,1399.9 1997.4,1404.3 1998.2,1380.3 1999.1,1383.1 1999.9,1426.5 2000.7,1375.4 2001.5,1364.7 2002.4,1384.1 2003.2,1385.0 2004.0,1381.8 2004.8,1411.8 2005.6,1405.1 2006.5,1382.4 2007.3,1422.6 2008.1,1388.9 2008.9,1396.4 2009.8,1384.9 2010.6,1383.8 2011.4,1400.7 2012.2,1413.3 2013.1,1403.1 2013.9,1396.5 2014.7,1393.4 2015.5,1412.5 2016.3,1379.2 2017.2,1393.4 2018.0,1385.5 2018.8,1393.7 2019.6,1393.0 2020.5,1387.5 2021.3,1383.0 2022.1,1400.9 2022.9,1422.4 2023.7,1401.3 2024.6,1395.5 2025.4,1387.7 2026.2,1404.7 2027.0,1402.5 2027.9,1421.4 2028.7,1394.2 2029.5,1416.5 2030.3,1387.7 2031.2,1403.3 2032.0,1407.0 2032.8,1391.8 2033.6,1376.7 2034.4,1399.9 2035.3,1401.9 2036.1,1412.5 2036.9,1411.0 2037.7,1419.2 2038.6,1386.8 2039.4,1417.0 2040.2,1403.3 2041.0,1407.4 2041.9,1374.0 2042.7,1403.1 2043.5,1398.3 2044.3,1398.9 2045.1,1428.7 2046.0,1389.3 2046.8,1392.4 2047.6,1399.9 2048.4,1400.7 2049.3,1383.5 2050.1,1382.5 2050.9,1396.0 2051.7,1381.8 2052.5,1403.3 2053.4,1389.9 2054.2,1378.8 2055.0,1403.8 2055.8,1401.8 2056.7,1403.1 2057.5,1397.2 2058.3,1402.4 2059.1,1391.5 2060.0,1375.1 2060.8,1391.3 2061.6,1392.1 2062.4,1390.0 2063.2,1398.4 2064.1,1415.4 2064.9,1405.1 2065.7,1401.0 2066.5,1402.9 2067.4,1383.8 2068.2,1419.0 2069.0,1397.4 2069.8,1411.0 2070.6,1408.1 2071.5,1408.1 2072.3,1416.3 2073.1,1395.8 2073.9,1407.1 2074.8,1393.7 2075.6,1395.4 2076.4,1370.4 2077.2,1396.5 2078.1,1394.2 2078.9,1398.8 2079.7,1384.3 2080.5,1381.5 2081.3,1398.5 2082.2,1392.3 2083.0,1400.8 2083.8,1382.6 2084.6,1376.6 2085.5,1400.3 2086.3,1398.3 2087.1,1397.5 2087.9,1399.8 2088.8,1397.5 2089.6,1393.6 2090.4,1384.6 2091.2,1397.6 2092.0,1394.1 2092.9,1391.0 2093.7,1378.5 2094.5,1389.8 2095.3,1401.5 2096.2,1403.6 2097.0,1378.8 2097.8,1406.8 2098.6,1388.7 2099.4,1408.1 2100.3,1394.2 2101.1,1384.4 2101.9,1408.4 2102.7,1379.5 2103.6,1400.9 2104.4,1396.6 2105.2,1402.5 2106.0,1404.3 2106.9,1401.3 2107.7,1411.8 2108.5,1379.1 2109.3,1407.1 2110.1,1413.4 2111.0,1381.1 2111.8,1381.4 2112.6,1391.3 2113.4,1385.5 2114.3,1409.7 2115.1,1405.4 2115.9,1390.7 2116.7,1392.9 2117.5,1419.0 2118.4,1392.7 2119.2,1391.0 2120.0,1422.4 2120.8,1414.6 2121.7,1395.5 2122.5,1407.7 2123.3,1381.0 2124.1,1411.8 2125.0,1435.0 2125.8,1395.6 2126.6,1409.1 2127.4,1399.6 2128.2,1390.1 2129.1,1399.5 2129.9,1395.1 2130.7,1385.5 2131.5,1401.7 2132.4,1405.2 2133.2,1408.1 2134.0,1406.3 2134.8,1405.6 2135.7,1403.0 2136.5,1397.4 2137.3,1385.2 2138.1,1401.6 2138.9,1396.2 2139.8,1384.7 2140.6,1400.6 2141.4,1408.5 2142.2,1418.7 2143.1,1390.7 2143.9,1415.6 2144.7,1392.6 2145.5,1403.2 2146.3,1415.9 2147.2,1400.6 2148.0,1396.4 2148.8,1388.4 2149.6,1413.1 2150.5,1390.0 2151.3,1402.3 2152.1,1398.9 2152.9,1404.9 2153.8,1416.5 2154.6,1406.0 2155.4,1424.3 2156.2,1420.6 2157.0,1398.2 2157.9,1384.8 2158.7,1396.2 2159.5,1395.5 2160.3,1415.7 2161.2,1399.0 2162.0,1406.1 2162.8,1381.2 2163.6,1405.5 2164.4,1417.8 2165.3,1399.8 2166.1,1388.5 2166.9,1396.2 2167.7,1400.6 2168.6,1399.5 2169.4,1399.0 2170.2,1402.2 2171.0,1388.7 2171.9,1395.3 2172.7,1394.0 2173.5,1394.0 2174.3,1376.4 2175.1,1398.5 2176.0,1401.7 2176.8,1382.0 2177.6,1415.2 2178.4,1393.6 2179.3,1394.8 2180.1,1402.0 2180.9,1396.6 2181.7,1407.2 2182.5,1408.4 2183.4,1370.2 2184.2,1395.5 2185.0,1406.5 2185.8,1402.4 2186.7,1405.4 2187.5,1398.1 2188.3,1392.2 2189.1,1381.4 2190.0,1416.5 2190.8,1400.0 2191.6,1398.8 2192.4,1400.1 2193.2,1395.7 2194.1,1398.1 2194.9,1410.0 2195.7,1401.7 2196.5,1381.8 2197.4,1395.6 2198.2,1391.4 2199.0,1396.2 2199.8,1394.3 2200.7,1412.7 2201.5,1381.8 2202.3,1403.2 2203.1,1402.1 2203.9,1389.1 2204.8,1377.9 2205.6,1395.5 2206.4,1377.2 2207.2,1409.9 2208.1,1403.0 2208.9,1367.6 2209.7,1396.5 2210.5,1390.2 2211.3,1385.4 2212.2,1384.6 2213.0,1413.3 2213.8,1384.3 2214.6,1386.0 2215.5,1407.2 2216.3,1393.7 2217.1,1375.2 2217.9,1428.2 2218.8,1399.2 2219.6,1384.5 2220.4,1427.2 2221.2,1400.6 2222.0,1398.7 2222.9,1391.4 2223.7,1404.5 2224.5,1400.7 2225.3,1398.6 2226.2,1410.8 2227.0,1394.6 2227.8,1385.7 2228.6,1382.3 2229.4,1404.7 2230.3,1399.9 2231.1,1390.3 2231.9,1408.5 2232.7,1403.4 2233.6,1388.2 2234.4,1378.6 2235.2,1388.8 2236.0,1381.9 2236.9,1393.4 2237.7,1398.5 2238.5,1401.0"/>
<polyline id="curve-c" fill="none" stroke="#0000ff" stroke-width="3" stroke-linejoin="round" stroke-linecap="butt" shape-rendering="crispEdges" points="181.5,811.4 182.3,826.2 183.1,824.3 184.0,803.9 184.8,806.0 185.6,803.0 186.4,815.2 187.3,807.6 188.1,816.5 188.9,786.2 189.7,825.1 190.6,805.7 191.4,814.3 192.2,804.7 193.0,801.6 193.8,811.0 194.7,814.9 195.5,802.8 196.3,803.1 197.1,812.5 198.0,794.3 198.8,786.6 199.6,808.2 200.4,795.6 201.2,780.9 202.1,793.2 202.9,796.9 203.7,788.2 204.5,784.3 205.4,801.6 206.2,811.0 207.0,797.7 207.8,791.4 208.7,804.0 209.5,807.4 210.3,795.3 211.1,804.6 211.9,809.9 212.8,795.1 213.6,787.6 214.4,800.5 215.2,798.9 216.1,808.1 216.9,780.2 217.7,786.8 218.5,784.2 219.3,773.3 220.2,794.1 221.0,798.0 221.8,782.8 222.6,806.6 223.5,799.5 224.3,796.5 225.1,793.3 225.9,798.9 226.8,771.9 227.6,793.6 228.4,792.8 229.2,764.8 230.0,788.5 230.9,780.9 231.7,792.1 232.5,777.5 233.3,781.7 234.2,785.2 235.0,770.6 235.8,787.0 236.6,778.3 237.5,784.6 238.3,772.4 239.1,790.4 239.9,784.3 240.7,774.8 241.6,783.7 242.4,790.4 243.2,796.1 244.0,757.0 244.9,784.8 245.7,779.5 246.5,772.7 247.3,761.8 248.1,787.4 249.0,758.1 249.8,778.7 250.6,786.8 251.4,753.1 252.3,767.7 253.1,755.7 253.9,773.3 254.7,787.5 255.6,793.1 256.4,749.0 257.2,762.6 258.0,777.0 258.8,786.7 259.7,773.1 260.5,759.4 261.3,771.1 262.1,767.2 263.0,764.8 263.8,758.4 264.6,771.0 265.4,769.8 266.2,765.0 267.1,763.2 267.9,750.7 268.7,759.5 269.5,778.7 270.4,762.3 271.2,747.6 272.0,779.2 272.8,769.6 273.7,787.4 274.5,763.5 275.3,757.1 276.1,745.4 276.9,776.9 277.8,790.8 278.6,751.5 279.4,753.1 280.2,767.0 281.1,750.1 281.9,756.2 282.7,754.8 283.5,760.7 284.4,770.6 285.2,757.9 286.0,767.8 286.8,752.0 287.6,760.3 288.5,731.5 289.3,739.1 290.1,764.6 290.9,748.3 291.8,761.4 292.6,760.6 293.4,769.3 294.2,763.1 295.0,765.2 295.9,752.0 296.7,745.0 297.5,744.3 298.3,746.9 299.2,739.3 300.0,745.7 300.8,750.7 301.6,754.5 302.5,747.5 303.3,729.0 304.1,750.1 304.9,753.3 305.7,763.0 306.6,757.0 307.4,742.7 308.2,741.6 309.0,772.8 309.9,758.2 310.7,770.3 311.5,773.6 312.3,739.5 313.1,753.1 314.0,753.7 314.8,754.7 315.6,754.3 316.4,750.2 317.3,749.7 318.1,730.2 318.9,745.5 319.7,738.6 320.6,748.5 321.4,741.5 322.2,753.8 323.0,756.0 323.8,750.0 324.7,750.0 325.5,747.3 326.3,741.0 327.1,744.1 328.0,740.2 328.8,750.3 329.6,745.9 330.4,752.4 331.2,730.3 332.1,755.8 332.9,736.7 333.7,737.0 334.5,743.1 335.4,738.8 336.2,748.6 337.0,738.6 337.8,732.9 338.7,735.4 339.5,760.2 340.3,745.6 341.1,731.6 341.9,745.0 342.8,727.0 343.6,765.4 344.4,727.3 345.2,750.3 346.1,751.0 346.9,728.0 347.7,748.1 348.5,756.1 349.4,749.9 350.2,747.5 351.0,755.4 351.8,746.3 352.6,748.2 353.5,742.9 354.3,751.6 355.1,733.4 355.9,753.3 356.8,738.4 357.6,731.6 358.4,748.3 359.2,763.6 360.0,755.1 360.9,738.1 361.7,752.1 362.5,738.8 363.3,742.6 364.2,745.0 365.0,717.3 365.8,746.2 366.6,732.1 367.5,735.9 368.3,727.0 369.1,726.5 369.9,733.1 370.7,753.4 371.6,763.1 372.4,743.6 373.2,756.5 374.0,740.9 374.9,722.0 375.7,745.7 376.5,749.1 377.3,739.0 378.1,747.4 379.0,750.5 379.8,734.0 380.6,727.0 381.4,741.5 382.3,741.6 383.1,740.0 383.9,755.4 384.7,764.0 385.6,739.4 386.4,752.2 387.2,755.1 388.0,752.5 388.8,756.4 389.7,740.0 390.5,753.1 391.3,767.9 392.1,754.0 393.0,737.7 393.8,751.9 394.6,759.6 395.4,749.4 396.3,738.8 397.1,763.1 397.9,731.1 398.7,751.4 399.5,745.6 400.4,732.2 401.2,760.0 402.0,750.1 402.8,732.9 403.7,753.3 404.5,741.6 405.3,724.8 406.1,738.9 406.9,749.9 407.8,754.4 408.6,749.1 409.4,747.8 410.2,752.8 411.1,745.1 411.9,761.2 412.7,749.5 413.5,751.3 414.4,754.3 415.2,736.1 416.0,740.2 416.8,766.0 417.6,752.5 418.5,745.5 419.3,752.8 420.1,743.4 420.9,752.3 421.8,741.6 422.6,752.5 423.4,731.4 424.2,764.9 425.0,743.9 425.9,731.7 426.7,747.4 427.5,745.9 428.3,752.0 429.2,737.2 430.0,755.1 430.8,792.3 431.6,736.1 432.5,754.8 433.3,747.5 434.1,753.4 434.9,730.4 435.7,738.2 436.6,756.8 437.4,751.2 438.2,770.6 439.0,743.8 439.9,754.0 440.7,785.7 441.5,743.5 442.3,742.0 443.2,752.1 444.0,752.2 444.8,762.5 445.6,754.4 446.4,744.3 447.3,755.6 448.1,783.6 448.9,768.0 449.7,721.6 450.6,752.0 451.4,743.7 452.2,761.1 453.0,752.1 453.8,776.4 454.7,765.0 455.5,764.7 456.3,756.7 457.1,754.2 458.0,758.7 458.8,769.8 459.6,761.2 460.4,751.2 461.3,770.0 462.1,757.7 462.9,754.7 463.7,746.6 464.5,749.3 465.4,748.7 466.2,724.0 467.0,768.0 467.8,762.9 468.7,754.1 469.5,768.7 470.3,761.8 471.1,761.2 471.9,728.6 472.8,754.5 473.6,763.5 474.4,776.0 475.2,778.8 476.1,774.2 476.9,744.6 477.7,732.8 478.5,764.8 479.4,758.7 480.2,769.5 481.0,757.2 481.8,761.3 482.6,741.6 483.5,764.2 484.3,754.1 485.1,763.3 485.9,764.7 486.8,758.2 487.6,763.4 488.4,759.7 489.2,768.7 490.1,765.9 490.9,754.0 491.7,753.7 492.5,780.6 493.3,759.5 494.2,772.3 495.0,765.5 495.8,754.7 496.6,752.7 497.5,762.8 498.3,764.5 499.1,768.8 499.9,747.3 500.7,755.1 501.6,761.0 502.4,780.7 503.2,735.3 504.0,767.6 504.9,756.5 505.7,767.8 506.5,757.3 507.3,767.3 508.2,781.2 509.0,767.4 509.8,768.5 510.6,767.9 511.4,755.2 512.3,770.2 513.1,761.7 513.9,754.9 514.7,763.9 515.6,761.9 516.4,773.3 517.2,764.3 518.0,758.8 518.8,781.8 519.7,776.5 520.5,779.9 521.3,772.4 522.1,764.3 523.0,760.8 523.8,762.5 524.6,776.8 525.4,767.3 526.3,749.0 527.1,765.7 527.9,749.9 528.7,768.2 529.5,752.5 530.4,751.9 531.2,767.8 532.0,765.6 532.8,747.4 533.7,775.2 534.5,791.5 535.3,749.6 536.1,787.6 536.9,758.7 537.8,761.0 538.6,764.6 539.4,750.0 540.2,781.6 541.1,772.3 541.9,758.0 542.7,763.5 543.5,749.2 544.4,762.6 545.2,777.4 546.0,746.9 546.8,761.6 547.6,768.3 548.5,778.6 549.3,782.1 550.1,761.3 550.9,758.0 551.8,771.7 552.6,762.3 553.4,762.9 554.2,778.9 555.1,785.9 555.9,769.5 556.7,764.2 557.5,773.0 558.3,744.7 559.2,766.2 560.0,754.2 560.8,793.8 561.6,774.6 562.5,767.9 563.3,764.0 564.1,737.3 564.9,774.4 565.7,784.9 566.6,757.8 567.4,774.0 568.2,774.4 569.0,748.2 569.9,776.8 570.7,781.5 571.5,768.5 572.3,765.1 573.2,774.9 574.0,748.0 574.8,766.8 575.6,777.7 576.4,751.3 577.3,776.9 578.1,760.6 578.9,741.4 579.7,764.0 580.6,753.9 581.4,768.6 582.2,751.3 583.0,776.7 583.8,755.9 584.7,768.2 585.5,756.9 586.3,759.6 587.1,776.5 588.0,764.6 588.8,756.8 589.6,745.9 590.4,772.2 591.3,765.3 592.1,750.1 592.9,751.4 593.7,728.0 594.5,713.1 595.4,691.8 596.2,670.2 597.0,629.4 597.8,589.1 598.7,575.5 599.5,581.2 600.3,597.0 601.1,623.2 602.0,641.7 602.8,673.0 603.6,706.8 604.4,723.3 605.2,748.0 606.1,734.7 606.9,771.3 607.7,749.8 608.5,759.3 609.4,747.1 610.2,771.1 611.0,779.9 611.8,778.4 612.6,776.4 613.5,749.6 614.3,759.1 615.1,763.2 615.9,758.3 616.8,782.4 617.6,772.0 618.4,770.0 619.2,776.2 620.1,760.0 620.9,760.9 621.7,761.5 622.5,777.7 623.3,776.3 624.2,779.3 625.0,785.4 625.8,757.7 626.6,767.2 627.5,775.7 628.3,758.8 629.1,768.5 629.9,786.6 630.7,787.9 631.6,787.9 632.4,776.3 633.2,773.7 634.0,788.9 634.9,772.5 635.7,780.9 636.5,792.6 637.3,773.4 638.2,770.9 639.0,778.1 639.8,785.4 640.6,784.4 641.4,780.9 642.3,785.8 643.1,761.3 643.9,770.1 644.7,782.1 645.6,769.9 646.4,765.4 647.2,767.2 648.0,770.8 648.9,779.6 649.7,770.1 650.5,784.9 651.3,801.9 652.1,781.0 653.0,797.6 653.8,786.5 654.6,770.5 655.4,780.7 656.3,772.6 657.1,792.9 657.9,771.0 658.7,799.7 659.5,791.3 660.4,761.6 661.2,794.1 662.0,803.1 662.8,776.3 663.7,796.9 664.5,765.1 665.3,788.8 666.1,766.9 667.0,791.7 667.8,765.8 668.6,756.2 669.4,791.2 670.2,813.1 671.1,780.1 671.9,796.6 672.7,788.5 673.5,783.6 674.4,794.6 675.2,806.5 676.0,773.6 676.8,794.4 677.6,792.1 678.5,771.8 679.3,806.9 680.1,810.9 680.9,777.7 681.8,808.8 682.6,789.6 683.4,787.2 684.2,806.5 685.1,792.0 685.9,793.2 686.7,807.1 687.5,804.6 688.3,800.2 689.2,774.0 690.0,772.1 690.8,803.3 691.6,779.8 692.5,792.3 693.3,778.4 694.1,788.8 694.9,776.3 695.8,809.9 696.6,779.6 697.4,790.1 698.2,789.4 699.0,805.6 699.9,775.6 700.7,791.6 701.5,789.8 702.3,798.4 703.2,797.9 704.0,787.3 704.8,795.5 705.6,788.6 706.4,798.4 707.3,792.0 708.1,785.8 708.9,793.2 709.7,797.8 710.6,819.9 711.4,788.3 712.2,797.6 713.0,811.1 713.9,770.5 714.7,774.5 715.5,781.1 716.3,793.6 717.1,823.1 718.0,799.7 718.8,809.3 719.6,793.0 720.4,767.3 721.3,769.2 722.1,807.7 722.9,798.3 723.7,781.4 724.5,809.3 725.4,778.9 726.2,809.8 727.0,813.6 727.8,788.3 728.7,784.5 729.5,807.1 730.3,785.0 731.1,807.6 732.0,784.1 732.8,807.3 733.6,799.2 734.4,793.3 735.2,788.2 736.1,801.3 736.9,777.0 737.7,795.7 738.5,794.5 739.4,807.0 740.2,784.9 741.0,819.2 741.8,796.0 742.6,786.7 743.5,815.8 744.3,819.1 745.1,797.9 745.9,790.0 746.8,800.5 747.6,792.5 748.4,796.9 749.2,818.5 750.1,805.1 750.9,802.3 751.7,804.7 752.5,800.1 753.3,810.4 754.2,810.9 755.0,796.5 755.8,802.0 756.6,828.5 757.5,805.6 758.3,798.5 759.1,824.2 759.9,800.7 760.8,787.9 761.6,808.2 762.4,790.1 763.2,794.6 764.0,804.0 764.9,798.7 765.7,791.3 766.5,793.7 767.3,793.1 768.2,813.3 769.0,791.5 769.8,793.1 770.6,823.0 771.4,793.1 772.3,816.4 773.1,814.3 773.9,797.3 774.7,782.6 775.6,804.0 776.4,806.4 777.2,809.6 778.0,799.1 778.9,812.0 779.7,813.9 780.5,785.6 781.3,814.0 782.1,799.3 783.0,790.6 783.8,793.2 784.6,818.2 785.4,807.7 786.3,775.6 787.1,796.8 787.9,793.9 788.7,793.2 789.5,789.0 790.4,777.8 791.2,804.1 792.0,783.0 792.8,789.1 793.7,785.9 794.5,784.0 795.3,800.3 796.1,795.6 797.0,782.7 797.8,778.8 798.6,783.5 799.4,799.0 800.2,788.3 801.1,788.4 801.9,780.6 802.7,779.9 803.5,783.7 804.4,758.1 805.2,795.7 806.0,765.6 806.8,765.3 807.7,783.9 808.5,767.1 809.3,760.5 810.1,747.8 810.9,729.7 811.8,740.8 812.6,739.8 813.4,696.5 814.2,690.4 815.1,611.5 815.9,538.2 816.7,442.9 817.5,312.6 818.3,203.6 819.2,153.8 820.0,180.9 820.8,233.7 821.6,288.1 822.5,341.3 823.3,409.4 824.1,509.3 824.9,577.7 825.8,624.1 826.6,717.6 827.4,708.9 828.2,722.6 829.0,763.4 829.9,771.2 830.7,751.1 831.5,752.7 832.3,762.6 833.2,790.8 834.0,777.5 834.8,774.6 835.6,786.1 836.4,802.6 837.3,774.8 838.1,788.1 838.9,778.3 839.7,820.7 840.6,818.0 841.4,809.4 842.2,798.1 843.0,808.3 843.9,777.6 844.7,806.0 845.5,788.3 846.3,789.4 847.1,797.3 848.0,802.2 848.8,813.6 849.6,815.8 850.4,811.5 851.3,798.3 852.1,817.6 852.9,809.1 853.7,824.7 854.6,801.2 855.4,780.5 856.2,807.4 857.0,838.1 857.8,819.3 858.7,812.2 859.5,825.1 860.3,821.2 861.1,821.2 862.0,810.4 862.8,817.6 863.6,819.5 864.4,810.2 865.2,805.1 866.1,819.9 866.9,829.8 867.7,826.4 868.5,825.0 869.4,825.4 870.2,849.6 871.0,823.1 871.8,832.3 872.7,843.1 873.5,821.3 874.3,823.9 875.1,832.9 875.9,840.2 876.8,824.2 877.6,824.4 878.4,820.7 879.2,805.0 880.1,830.7 880.9,813.6 881.7,795.0 882.5,811.2 883.3,791.0 884.2,797.2 885.0,807.1 885.8,794.9 886.6,817.1 887.5,788.3 888.3,809.5 889.1,814.9 889.9,827.7 890.8,824.2 891.6,818.9 892.4,819.5 893.2,820.1 894.0,835.7 894.9,816.7 895.7,831.5 896.5,825.5 897.3,830.2 898.2,825.2 899.0,853.4 899.8,821.8 900.6,832.7 901.5,833.4 902.3,837.5 903.1,836.1 903.9,836.1 904.7,842.9 905.6,814.6 906.4,832.3 907.2,818.3 908.0,835.4 908.9,819.4 909.7,822.2 910.5,832.8 911.3,849.8 912.1,840.7 913.0,837.7 913.8,850.6 914.6,823.8 915.4,810.8 916.3,830.2 917.1,832.1 917.9,849.6 918.7,860.2 919.6,820.4 920.4,864.4 921.2,854.0 922.0,845.8 922.8,840.5 923.7,864.2 924.5,837.4 925.3,831.1 926.1,838.2 927.0,820.9 927.8,842.2 928.6,835.5 929.4,840.7 930.2,841.1 931.1,824.8 931.9,852.2 932.7,825.4 933.5,847.4 934.4,818.9 935.2,841.6 936.0,827.9 936.8,837.9 937.7,830.0 938.5,812.4 939.3,824.8 940.1,838.4 940.9,844.9 941.8,820.8 942.6,813.4 943.4,827.8 944.2,835.5 945.1,830.7 945.9,828.7 946.7,847.8 947.5,849.2 948.3,846.7 949.2,827.4 950.0,839.1 950.8,836.0 951.6,821.9 952.5,848.4 953.3,839.3 954.1,832.8 954.9,854.7 955.8,847.1 956.6,848.2 957.4,852.2 958.2,846.6 959.0,823.8 959.9,833.9 960.7,849.8 961.5,829.4 962.3,838.7 963.2,842.8 964.0,854.8 964.8,853.1 965.6,848.4 966.5,835.9 967.3,848.6 968.1,844.1 968.9,836.1 969.7,853.5 970.6,843.5 971.4,829.1 972.2,852.3 973.0,834.8 973.9,844.5 974.7,820.1 975.5,837.4 976.3,826.6 977.1,826.3 978.0,815.5 978.8,862.0 979.6,835.6 980.4,840.0 981.3,850.0 982.1,835.8 982.9,843.1 983.7,821.5 984.6,839.3 985.4,832.2 986.2,842.7 987.0,839.0 987.8,820.9 988.7,815.5 989.5,825.1 990.3,845.2 991.1,841.6 992.0,841.3 992.8,813.4 993.6,805.6 994.4,829.3 995.2,832.6 996.1,829.4 996.9,840.4 997.7,834.3 998.5,822.6 999.4,826.1 1000.2,837.8 1001.0,836.9 1001.8,835.2 1002.7,862.1 1003.5,833.0 1004.3,837.3 1005.1,824.5 1005.9,831.8 1006.8,841.9 1007.6,842.4 1008.4,834.0 1009.2,840.3 1010.1,836.4 1010.9,814.1 1011.7,798.1 1012.5,862.3 1013.4,845.3 1014.2,835.1 1015.0,815.7 1015.8,821.0 1016.6,851.3 1017.5,803.7 1018.3,832.0 1019.1,845.7 1019.9,837.4 1020.8,844.4 1021.6,834.2 1022.4,863.2 1023.2,823.9 1024.0,820.1 1024.9,838.9 1025.7,852.2 1026.5,835.1 1027.3,847.8 1028.2,829.6 1029.0,822.1 1029.8,851.8 1030.6,853.8 1031.5,853.4 1032.3,830.7 1033.1,822.4 1033.9,822.3 1034.7,833.1 1035.6,842.4 1036.4,841.6 1037.2,819.2 1038.0,838.0 1038.9,835.9 1039.7,836.8 1040.5,835.5 1041.3,833.4 1042.1,842.6 1043.0,837.2 1043.8,838.3 1044.6,827.8 1045.4,840.3 1046.3,834.3 1047.1,811.4 1047.9,841.3 1048.7,832.7 1049.6,846.4 1050.4,833.9 1051.2,834.6 1052.0,838.1 1052.8,835.6 1053.7,830.5 1054.5,815.0 1055.3,856.8 1056.1,817.5 1057.0,831.7 1057.8,843.1 1058.6,839.9 1059.4,842.1 1060.3,844.4 1061.1,850.0 1061.9,838.9 1062.7,868.8 1063.5,823.7 1064.4,837.9 1065.2,831.1 1066.0,829.0 1066.8,838.5 1067.7,851.9 1068.5,826.9 1069.3,826.9 1070.1,843.3 1070.9,841.2 1071.8,857.4 1072.6,846.7 1073.4,837.4 1074.2,831.0 1075.1,837.2 1075.9,832.6 1076.7,818.9 1077.5,834.6 1078.4,832.5 1079.2,831.8 1080.0,829.4 1080.8,853.8 1081.6,842.3 1082.5,845.0 1083.3,827.2 1084.1,822.3 1084.9,830.8 1085.8,836.8 1086.6,830.0 1087.4,831.7 1088.2,844.9 1089.0,837.2 1089.9,822.4 1090.7,828.7 1091.5,826.0 1092.3,835.6 1093.2,820.0 1094.0,831.4 1094.8,841.3 1095.6,833.6 1096.5,822.7 1097.3,826.1 1098.1,834.5 1098.9,838.6 1099.7,842.6 1100.6,831.2 1101.4,817.7 1102.2,849.1 1103.0,836.1 1103.9,837.3 1104.7,836.0 1105.5,820.5 1106.3,828.7 1107.2,835.3 1108.0,844.1 1108.8,832.9 1109.6,796.3 1110.4,829.3 1111.3,836.0 1112.1,846.8 1112.9,840.0 1113.7,860.3 1114.6,848.0 1115.4,847.0 1116.2,842.1 1117.0,815.2 1117.8,840.6 1118.7,837.5 1119.5,824.3 1120.3,836.6 1121.1,834.2 1122.0,823.4 1122.8,826.5 1123.6,823.8 1124.4,827.9 1125.3,818.0 1126.1,825.2 1126.9,790.4 1127.7,796.5 1128.5,762.2 1129.4,746.1 1130.2,718.8 1131.0,691.6 1131.8,691.6 1132.7,712.1 1133.5,742.5 1134.3,734.6 1135.1,751.8 1135.9,736.8 1136.8,758.2 1137.6,783.0 1138.4,789.2 1139.2,813.4 1140.1,827.5 1140.9,810.3 1141.7,825.9 1142.5,824.2 1143.4,807.5 1144.2,828.6 1145.0,822.3 1145.8,847.5 1146.6,822.5 1147.5,852.6 1148.3,827.3 1149.1,856.0 1149.9,840.2 1150.8,839.5 1151.6,843.7 1152.4,845.1 1153.2,851.0 1154.0,855.0 1154.9,831.2 1155.7,820.9 1156.5,804.7 1157.3,831.1 1158.2,844.4 1159.0,840.1 1159.8,837.2 1160.6,831.9 1161.5,828.7 1162.3,832.8 1163.1,840.6 1163.9,815.9 1164.7,844.6 1165.6,819.5 1166.4,834.5 1167.2,829.1 1168.0,832.2 1168.9,824.4 1169.7,823.2 1170.5,833.8 1171.3,824.0 1172.2,864.8 1173.0,831.7 1173.8,829.0 1174.6,830.2 1175.4,824.2 1176.3,808.3 1177.1,833.6 1177.9,840.1 1178.7,819.3 1179.6,836.6 1180.4,822.7 1181.2,836.2 1182.0,840.7 1182.8,842.2 1183.7,841.6 1184.5,828.5 1185.3,846.7 1186.1,831.5 1187.0,840.7 1187.8,844.7 1188.6,833.1 1189.4,821.9 1190.3,843.7 1191.1,823.8 1191.9,826.4 1192.7,824.0 1193.5,846.4 1194.4,834.8 1195.2,810.8 1196.0,845.1 1196.8,860.5 1197.7,857.4 1198.5,830.2 1199.3,837.6 1200.1,842.5 1200.9,847.0 1201.8,837.1 1202.6,824.1 1203.4,845.4 1204.2,843.8 1205.1,821.4 1205.9,832.5 1206.7,839.8 1207.5,836.7 1208.4,842.8 1209.2,846.0 1210.0,843.1 1210.8,835.6 1211.6,821.4 1212.5,844.0 1213.3,853.1 1214.1,859.8 1214.9,836.7 1215.8,836.7 1216.6,853.8 1217.4,853.8 1218.2,841.2 1219.1,845.6 1219.9,828.7 1220.7,844.3 1221.5,828.1 1222.3,836.0 1223.2,836.3 1224.0,832.4 1224.8,813.6 1225.6,828.5 1226.5,841.9 1227.3,837.4 1228.1,833.7 1228.9,843.2 1229.7,846.3 1230.6,848.2 1231.4,829.2 1232.2,838.8 1233.0,834.8 1233.9,828.7 1234.7,821.6 1235.5,837.8 1236.3,828.9 1237.2,863.8 1238.0,838.0 1238.8,836.6 1239.6,834.7 1240.4,860.9 1241.3,828.6 1242.1,837.7 1242.9,830.8 1243.7,838.3 1244.6,839.4 1245.4,852.5 1246.2,823.6 1247.0,839.8 1247.8,858.7 1248.7,834.3 1249.5,838.2 1250.3,830.1 1251.1,810.3 1252.0,839.3 1252.8,854.1 1253.6,835.2 1254.4,819.5 1255.3,843.8 1256.1,841.8 1256.9,852.4 1257.7,851.5 1258.5,837.9 1259.4,845.7 1260.2,820.5 1261.0,854.0 1261.8,843.4 1262.7,853.8 1263.5,853.6 1264.3,838.1 1265.1,839.8 1266.0,831.5 1266.8,817.8 1267.6,840.1 1268.4,843.4 1269.2,829.1 1270.1,849.8 1270.9,842.8 1271.7,846.9 1272.5,832.8 1273.4,821.4 1274.2,850.6 1275.0,848.7 1275.8,840.4 1276.6,836.9 1277.5,838.5 1278.3,840.1 1279.1,835.9 1279.9,818.6 1280.8,850.7 1281.6,824.5 1282.4,837.9 1283.2,838.2 1284.1,844.7 1284.9,823.2 1285.7,855.6 1286.5,849.3 1287.3,850.6 1288.2,856.3 1289.0,832.6 1289.8,805.7 1290.6,845.6 1291.5,856.9 1292.3,855.2 1293.1,835.6 1293.9,840.8 1294.7,845.1 1295.6,821.0 1296.4,834.2 1297.2,834.5 1298.0,860.0 1298.9,834.4 1299.7,859.9 1300.5,842.0 1301.3,822.6 1302.2,867.4 1303.0,830.7 1303.8,849.0 1304.6,861.5 1305.4,835.8 1306.3,827.8 1307.1,853.9 1307.9,842.7 1308.7,827.8 1309.6,829.5 1310.4,837.4 1311.2,853.0 1312.0,838.6 1312.8,849.4 1313.7,860.9 1314.5,856.5 1315.3,858.4 1316.1,856.1 1317.0,823.4 1317.8,856.0 1318.6,845.7 1319.4,840.5 1320.3,829.4 1321.1,823.6 1321.9,829.1 1322.7,841.7 1323.5,828.4 1324.4,832.5 1325.2,834.8 1326.0,849.6 1326.8,838.5 1327.7,840.2 1328.5,857.2 1329.3,838.2 1330.1,848.8 1331.0,829.8 1331.8,845.7 1332.6,843.3 1333.4,843.9 1334.2,836.6 1335.1,830.1 1335.9,838.5 1336.7,836.5 1337.5,853.8 1338.4,852.4 1339.2,828.1 1340.0,849.2 1340.8,836.4 1341.6,847.2 1342.5,836.4 1343.3,825.0 1344.1,853.7 1344.9,847.2 1345.8,827.9 1346.6,820.2 1347.4,835.9 1348.2,828.4 1349.1,837.8 1349.9,849.2 1350.7,858.9 1351.5,837.9 1352.3,857.9 1353.2,855.5 1354.0,837.1 1354.8,822.9 1355.6,851.9 1356.5,849.1 1357.3,869.2 1358.1,858.6 1358.9,851.2 1359.7,861.6 1360.6,830.1 1361.4,844.4 1362.2,839.1 1363.0,862.3 1363.9,848.8 1364.7,807.1 1365.5,858.0 1366.3,831.9 1367.2,851.3 1368.0,836.8 1368.8,845.2 1369.6,849.7 1370.4,844.6 1371.3,831.5 1372.1,858.5 1372.9,847.0 1373.7,842.3 1374.6,850.6 1375.4,836.4 1376.2,864.2 1377.0,845.1 1377.9,846.8 1378.7,846.6 1379.5,832.1 1380.3,829.1 1381.1,845.1 1382.0,846.7 1382.8,858.1 1383.6,847.9 1384.4,830.2 1385.3,848.7 1386.1,852.2 1386.9,854.3 1387.7,846.6 1388.5,828.7 1389.4,856.1 1390.2,834.3 1391.0,849.4 1391.8,824.7 1392.7,851.6 1393.5,833.8 1394.3,855.3 1395.1,863.1 1396.0,856.3 1396.8,829.4 1397.6,832.0 1398.4,832.8 1399.2,850.5 1400.1,846.8 1400.9,844.7 1401.7,846.4 1402.5,849.6 1403.4,850.4 1404.2,862.3 1405.0,842.3 1405.8,845.3 1406.6,821.6 1407.5,827.7 1408.3,834.9 1409.1,829.3 1409.9,845.5 1410.8,854.9 1411.6,837.9 1412.4,837.3 1413.2,837.0 1414.1,844.4 1414.9,836.6 1415.7,847.8 1416.5,846.3 1417.3,846.8 1418.2,851.6 1419.0,843.1 1419.8,844.4 1420.6,862.9 1421.5,842.1 1422.3,851.8 1423.1,843.2 1423.9,837.3 1424.8,837.2 1425.6,833.0 1426.4,842.5 1427.2,835.4 1428.0,837.4 1428.9,856.3 1429.7,840.6 1430.5,855.2 1431.3,845.1 1432.2,851.9 1433.0,834.9 1433.8,843.6 1434.6,872.2 1435.4,851.3 1436.3,853.3 1437.1,844.3 1437.9,851.5 1438.7,828.2 1439.6,831.7 1440.4,846.4 1441.2,850.8 1442.0,836.6 1442.9,839.1 1443.7,837.0 1444.5,839.0 1445.3,827.3 1446.1,824.5 1447.0,840.0 1447.8,820.9 1448.6,829.6 1449.4,833.2 1450.3,828.6 1451.1,843.4 1451.9,835.4 1452.7,839.6 1453.5,828.8 1454.4,831.8 1455.2,846.2 1456.0,844.4 1456.8,834.8 1457.7,844.3 1458.5,842.2 1459.3,841.8 1460.1,858.2 1461.0,835.2 1461.8,844.6 1462.6,844.5 1463.4,836.9 1464.2,826.2 1465.1,847.4 1465.9,842.4 1466.7,839.9 1467.5,839.6 1468.4,839.5 1469.2,828.9 1470.0,842.4 1470.8,818.3 1471.7,838.6 1472.5,821.7 1473.3,834.7 1474.1,847.0 1474.9,835.7 1475.8,833.1 1476.6,844.4 1477.4,835.4 1478.2,833.7 1479.1,833.8 1479.9,855.6 1480.7,845.8 1481.5,843.6 1482.3,824.4 1483.2,845.1 1484.0,823.1 1484.8,843.4 1485.6,825.0 1486.5,860.2 1487.3,818.3 1488.1,851.7 1488.9,846.8 1489.8,817.1 1490.6,834.7 1491.4,854.0 1492.2,850.4 1493.0,818.2 1493.9,831.3 1494.7,823.7 1495.5,825.4 1496.3,829.7 1497.2,858.3 1498.0,838.6 1498.8,834.4 1499.6,833.2 1500.4,844.6 1501.3,844.9 1502.1,826.4 1502.9,853.8 1503.7,824.4 1504.6,833.7 1505.4,842.0 1506.2,856.5 1507.0,832.9 1507.9,840.1 1508.7,851.8 1509.5,844.0 1510.3,849.7 1511.1,848.7 1512.0,839.7 1512.8,844.0 1513.6,847.3 1514.4,836.4 1515.3,855.1 1516.1,813.8 1516.9,826.1 1517.7,853.2 1518.5,841.5 1519.4,829.2 1520.2,840.9 1521.0,849.0 1521.8,830.1 1522.7,845.3 1523.5,835.0 1524.3,835.1 1525.1,835.6 1526.0,849.1 1526.8,823.4 1527.6,832.0 1528.4,843.8 1529.2,822.2 1530.1,817.9 1530.9,842.6 1531.7,836.0 1532.5,834.2 1533.4,837.5 1534.2,824.6 1535.0,869.2 1535.8,824.3 1536.7,830.5 1537.5,819.0 1538.3,830.5 1539.1,852.7 1539.9,835.2 1540.8,841.6 1541.6,829.0 1542.4,855.2 1543.2,835.9 1544.1,819.4 1544.9,842.2 1545.7,828.6 1546.5,839.2 1547.3,833.0 1548.2,833.5 1549.0,830.7 1549.8,817.2 1550.6,808.3 1551.5,834.4 1552.3,818.7 1553.1,820.0 1553.9,807.4 1554.8,784.9 1555.6,788.5 1556.4,814.0 1557.2,783.6 1558.0,783.3 1558.9,766.5 1559.7,774.2 1560.5,774.4 1561.3,776.4 1562.2,780.2 1563.0,777.3 1563.8,782.5 1564.6,794.1 1565.4,803.2 1566.3,803.1 1567.1,829.6 1567.9,816.3 1568.7,819.6 1569.6,813.6 1570.4,835.7 1571.2,814.4 1572.0,809.4 1572.9,818.3 1573.7,837.8 1574.5,818.4 1575.3,847.2 1576.1,832.6 1577.0,815.9 1577.8,831.1 1578.6,854.5 1579.4,824.4 1580.3,819.5 1581.1,840.6 1581.9,849.9 1582.7,846.7 1583.6,831.4 1584.4,837.4 1585.2,839.1 1586.0,849.0 1586.8,860.3 1587.7,834.4 1588.5,850.7 1589.3,831.9 1590.1,842.7 1591.0,825.2 1591.8,827.2 1592.6,840.8 1593.4,825.8 1594.2,846.3 1595.1,829.8 1595.9,837.1 1596.7,835.3 1597.5,832.5 1598.4,837.8 1599.2,848.8 1600.0,872.1 1600.8,822.7 1601.7,839.9 1602.5,834.4 1603.3,826.0 1604.1,839.8 1604.9,826.4 1605.8,835.6 1606.6,850.8 1607.4,813.3 1608.2,839.4 1609.1,841.7 1609.9,825.6 1610.7,842.6 1611.5,840.7 1612.3,832.6 1613.2,850.6 1614.0,821.6 1614.8,844.0 1615.6,834.0 1616.5,824.5 1617.3,834.6 1618.1,832.6 1618.9,846.1 1619.8,819.5 1620.6,834.4 1621.4,831.4 1622.2,854.7 1623.0,823.8 1623.9,848.8 1624.7,816.4 1625.5,840.5 1626.3,835.0 1627.2,840.9 1628.0,828.4 1628.8,814.0 1629.6,818.7 1630.5,851.5 1631.3,838.8 1632.1,826.4 1632.9,846.6 1633.7,827.7 1634.6,827.7 1635.4,822.2 1636.2,849.7 1637.0,858.6 1637.9,824.9 1638.7,839.3 1639.5,847.2 1640.3,860.2 1641.1,808.3 1642.0,837.4 1642.8,843.2 1643.6,818.7 1644.4,840.4 1645.3,837.9 1646.1,843.9 1646.9,828.8 1647.7,840.3 1648.6,828.5 1649.4,842.4 1650.2,837.2 1651.0,831.0 1651.8,819.0 1652.7,854.2 1653.5,847.9 1654.3,845.3 1655.1,827.5 1656.0,831.0 1656.8,854.2 1657.6,843.5 1658.4,825.1 1659.2,835.4 1660.1,836.5 1660.9,832.5 1661.7,823.9 1662.5,849.1 1663.4,841.4 1664.2,832.3 1665.0,816.5 1665.8,827.8 1666.7,834.4 1667.5,844.4 1668.3,830.1 1669.1,847.1 1669.9,835.9 1670.8,825.7 1671.6,802.1 1672.4,820.6 1673.2,816.9 1674.1,832.3 1674.9,837.8 1675.7,849.9 1676.5,833.7 1677.4,820.4 1678.2,860.7 1679.0,837.2 1679.8,830.5 1680.6,830.4 1681.5,817.8 1682.3,840.5 1683.1,837.4 1683.9,851.2 1684.8,845.5 1685.6,842.6 1686.4,846.9 1687.2,828.9 1688.0,826.8 1688.9,831.0 1689.7,816.9 1690.5,829.2 1691.3,826.5 1692.2,837.4 1693.0,828.8 1693.8,806.2 1694.6,827.3 1695.5,841.9 1696.3,802.7 1697.1,812.6 1697.9,817.9 1698.7,796.8 1699.6,796.0 1700.4,786.2 1701.2,745.7 1702.0,724.5 1702.9,678.6 1703.7,628.2 1704.5,612.4 1705.3,631.4 1706.1,664.5 1707.0,705.6 1707.8,731.3 1708.6,730.0 1709.4,734.5 1710.3,717.8 1711.1,704.1 1711.9,731.8 1712.7,759.8 1713.6,783.7 1714.4,787.0 1715.2,812.8 1716.0,831.7 1716.8,823.8 1717.7,838.0 1718.5,841.4 1719.3,827.6 1720.1,836.7 1721.0,826.7 1721.8,843.1 1722.6,830.4 1723.4,825.7 1724.2,832.1 1725.1,832.0 1725.9,837.6 1726.7,838.8 1727.5,820.3 1728.4,826.5 1729.2,838.3 1730.0,839.9 1730.8,835.5 1731.7,865.0 1732.5,847.7 1733.3,834.1 1734.1,843.4 1734.9,850.5 1735.8,839.5 1736.6,815.3 1737.4,836.5 1738.2,836.1 1739.1,860.1 1739.9,814.4 1740.7,853.4 1741.5,833.8 1742.4,846.4 1743.2,832.3 1744.0,837.7 1744.8,848.7 1745.6,836.7 1746.5,847.8 1747.3,834.7 1748.1,830.9 1748.9,833.1 1749.8,829.8 1750.6,834.2 1751.4,851.2 1752.2,822.0 1753.0,816.4 1753.9,835.2 1754.7,854.8 1755.5,847.4 1756.3,850.5 1757.2,849.7 1758.0,826.8 1758.8,836.6 1759.6,804.6 1760.5,828.1 1761.3,842.0 1762.1,817.1 1762.9,811.3 1763.7,820.0 1764.6,837.4 1765.4,848.3 1766.2,864.6 1767.0,851.2 1767.9,817.3 1768.7,808.0 1769.5,836.4 1770.3,846.8 1771.1,816.0 1772.0,828.5 1772.8,829.4 1773.6,834.9 1774.4,832.4 1775.3,840.4 1776.1,846.6 1776.9,835.2 1777.7,843.0 1778.6,857.2 1779.4,822.5 1780.2,822.2 1781.0,840.1 1781.8,855.5 1782.7,836.1 1783.5,846.7 1784.3,830.5 1785.1,844.6 1786.0,826.8 1786.8,841.8 1787.6,838.5 1788.4,838.5 1789.3,849.8 1790.1,846.2 1790.9,827.0 1791.7,844.0 1792.5,814.3 1793.4,845.2 1794.2,865.4 1795.0,839.9 1795.8,839.6 1796.7,834.5 1797.5,843.3 1798.3,828.5 1799.1,841.4 1799.9,830.5 1800.8,828.8 1801.6,835.1 1802.4,832.9 1803.2,813.6 1804.1,857.4 1804.9,835.1 1805.7,814.0 1806.5,845.8 1807.4,833.1 1808.2,835.7 1809.0,841.4 1809.8,822.9 1810.6,799.3 1811.5,832.0 1812.3,835.9 1813.1,844.6 1813.9,824.3 1814.8,829.9 1815.6,837.5 1816.4,829.2 1817.2,829.9 1818.0,835.7 1818.9,821.2 1819.7,850.9 1820.5,822.0 1821.3,833.0 1822.2,828.7 1823.0,824.3 1823.8,838.6 1824.6,844.0 1825.5,849.0 1826.3,838.9 1827.1,827.1 1827.9,842.1 1828.7,815.5 1829.6,832.6 1830.4,838.0 1831.2,838.5 1832.0,818.7 1832.9,814.6 1833.7,850.9 1834.5,825.9 1835.3,812.8 1836.2,817.4 1837.0,831.7 1837.8,845.1 1838.6,831.4 1839.4,845.2 1840.3,834.0 1841.1,836.7 1841.9,842.6 1842.7,826.9 1843.6,834.6 1844.4,826.6 1845.2,823.7 1846.0,838.5 1846.8,821.5 1847.7,831.8 1848.5,821.7 1849.3,829.8 1850.1,824.7 1851.0,843.3 1851.8,831.5 1852.6,831.5 1853.4,849.5 1854.3,797.1 1855.1,817.5 1855.9,798.7 1856.7,830.1 1857.5,835.2 1858.4,837.5 1859.2,833.1 1860.0,819.9 1860.8,850.0 1861.7,833.3 1862.5,826.7 1863.3,816.8 1864.1,834.5 1864.9,823.9 1865.8,824.3 1866.6,831.8 1867.4,831.9 1868.2,819.9 1869.1,843.7 1869.9,817.7 1870.7,816.3 1871.5,832.6 1872.4,830.5 1873.2,829.8 1874.0,824.2 1874.8,829.4 1875.6,822.4 1876.5,809.8 1877.3,837.2 1878.1,817.0 1878.9,826.0 1879.8,837.0 1880.6,828.8 1881.4,860.0 1882.2,812.3 1883.1,819.8 1883.9,829.3 1884.7,843.9 1885.5,825.4 1886.3,811.7 1887.2,841.3 1888.0,817.4 1888.8,825.7 1889.6,838.1 1890.5,820.2 1891.3,822.6 1892.1,833.3 1892.9,825.3 1893.7,830.9 1894.6,816.6 1895.4,826.1 1896.2,814.8 1897.0,809.4 1897.9,847.4 1898.7,832.4 1899.5,837.6 1900.3,815.8 1901.2,826.6 1902.0,824.4 1902.8,810.4 1903.6,832.9 1904.4,818.2 1905.3,824.1 1906.1,808.9 1906.9,837.7 1907.7,834.9 1908.6,830.5 1909.4,815.4 1910.2,819.6 1911.0,839.7 1911.8,822.3 1912.7,828.4 1913.5,826.8 1914.3,812.1 1915.1,842.2 1916.0,801.7 1916.8,826.7 1917.6,822.8 1918.4,804.9 1919.3,826.8 1920.1,828.5 1920.9,822.5 1921.7,811.7 1922.5,825.5 1923.4,832.2 1924.2,820.7 1925.0,836.4 1925.8,824.6 1926.7,821.1 1927.5,824.8 1928.3,796.3 1929.1,790.2 1930.0,789.7 1930.8,771.0 1931.6,754.0 1932.4,712.8 1933.2,659.7 1934.1,613.8 1934.9,576.7 1935.7,566.4 1936.5,584.1 1937.4,624.8 1938.2,651.5 1939.0,677.2 1939.8,693.7 1940.6,687.8 1941.5,683.5 1942.3,662.5 1943.1,689.9 1943.9,702.2 1944.8,731.4 1945.6,757.5 1946.4,753.5 1947.2,816.7 1948.1,802.6 1948.9,810.4 1949.7,793.0 1950.5,824.0 1951.3,824.1 1952.2,817.1 1953.0,825.5 1953.8,838.6 1954.6,821.1 1955.5,815.4 1956.3,841.9 1957.1,830.3 1957.9,825.8 1958.7,854.8 1959.6,830.6 1960.4,827.2 1961.2,832.6 1962.0,825.2 1962.9,832.6 1963.7,832.1 1964.5,823.0 1965.3,827.7 1966.2,834.5 1967.0,835.4 1967.8,837.9 1968.6,840.3 1969.4,834.3 1970.3,837.4 1971.1,827.2 1971.9,828.7 1972.7,843.6 1973.6,809.0 1974.4,836.0 1975.2,868.1 1976.0,810.5 1976.8,849.0 1977.7,811.6 1978.5,835.9 1979.3,850.4 1980.1,848.7 1981.0,821.2 1981.8,816.6 1982.6,815.0 1983.4,839.7 1984.3,826.9 1985.1,831.5 1985.9,834.4 1986.7,836.1 1987.5,837.5 1988.4,832.7 1989.2,812.8 1990.0,848.0 1990.8,799.7 1991.7,845.5 1992.5,824.3 1993.3,828.9 1994.1,825.2 1995.0,826.9 1995.8,830.9 1996.6,827.9 1997.4,818.5 1998.2,840.9 1999.1,824.5 1999.9,846.6 2000.7,829.4 2001.5,823.1 2002.4,836.2 2003.2,841.5 2004.0,820.7 2004.8,828.1 2005.6,847.8 2006.5,819.9 2007.3,821.7 2008.1,833.5 2008.9,817.7 2009.8,803.4 2010.6,812.6 2011.4,836.2 2012.2,839.5 2013.1,838.9 2013.9,836.7 2014.7,818.1 2015.5,840.2 2016.3,845.8 2017.2,824.6 2018.0,843.6 2018.8,828.7 2019.6,835.2 2020.5,837.4 2021.3,816.2 2022.1,850.2 2022.9,823.6 2023.7,832.4 2024.6,828.1 2025.4,839.1 2026.2,838.9 2027.0,834.3 2027.9,850.5 2028.7,837.6 2029.5,829.9 2030.3,801.4 2031.2,831.4 2032.0,831.5 2032.8,824.9 2033.6,825.1 2034.4,842.0 2035.3,847.3 2036.1,857.2 2036.9,848.6 2037.7,827.5 2038.6,838.7 2039.4,820.2 2040.2,844.4 2041.0,840.2 2041.9,829.2 2042.7,835.1 2043.5,833.6 2044.3,829.2 2045.1,851.9 2046.0,872.5 2046.8,846.4 2047.6,849.2 2048.4,839.0 2049.3,833.2 2050.1,862.6 2050.9,833.2 2051.7,842.1 2052.5,836.3 2053.4,844.5 2054.2,837.2 2055.0,844.7 2055.8,823.4 2056.7,836.9 2057.5,853.8 2058.3,826.3 2059.1,830.5 2060.0,854.0 2060.8,843.0 2061.6,850.6 2062.4,812.7 2063.2,840.1 2064.1,823.8 2064.9,822.5 2065.7,843.2 2066.5,852.1 2067.4,821.3 2068.2,825.8 2069.0,831.8 2069.8,837.1 2070.6,823.3 2071.5,864.6 2072.3,845.4 2073.1,834.5 2073.9,832.7 2074.8,865.4 2075.6,864.5 2076.4,833.0 2077.2,842.7 2078.1,853.2 2078.9,825.0 2079.7,831.9 2080.5,854.3 2081.3,830.7 2082.2,833.8 2083.0,823.2 2083.8,830.0 2084.6,846.7 2085.5,829.3 2086.3,823.7 2087.1,831.5 2087.9,859.2 2088.8,840.8 2089.6,832.3 2090.4,840.6 2091.2,843.9 2092.0,840.2 2092.9,817.9 2093.7,842.3 2094.5,836.3 2095.3,848.6 2096.2,823.2 2097.0,851.0 2097.8,833.1 2098.6,819.1 2099.4,854.3 2100.3,832.9 2101.1,843.2 2101.9,837.0 2102.7,851.6 2103.6,851.7 2104.4,851.9 2105.2,847.3 2106.0,820.3 2106.9,819.6 2107.7,841.4 2108.5,828.1 2109.3,844.5 2110.1,841.1 2111.0,822.8 2111.8,827.3 2112.6,826.2 2113.4,829.1 2114.3,837.0 2115.1,847.4 2115.9,855.1 2116.7,828.3 2117.5,833.1 2118.4,857.7 2119.2,850.1 2120.0,842.5 2120.8,812.7 2121.7,828.3 2122.5,841.9 2123.3,833.2 2124.1,863.2 2125.0,841.3 2125.8,843.6 2126.6,827.6 2127.4,828.3 2128.2,832.7 2129.1,833.2 2129.9,837.9 2130.7,845.0 2131.5,843.5 2132.4,852.4 2133.2,825.1 2134.0,843.3 2134.8,843.7 2135.7,859.5 2136.5,838.5 2137.3,844.9 2138.1,831.7 2138.9,846.2 2139.8,846.0 2140.6,834.1 2141.4,836.4 2142.2,841.2 2143.1,848.3 2143.9,828.3 2144.7,852.0 2145.5,837.9 2146.3,863.9 2147.2,858.9 2148.0,837.3 2148.8,834.8 2149.6,870.7 2150.5,849.5 2151.3,848.8 2152.1,837.4 2152.9,840.8 2153.8,851.8 2154.6,849.6 2155.4,832.9 2156.2,857.0 2157.0,846.2 2157.9,831.6 2158.7,854.2 2159.5,840.6 2160.3,851.8 2161.2,836.3 2162.0,846.9 2162.8,823.9 2163.6,847.1 2164.4,825.1 2165.3,844.7 2166.1,813.3 2166.9,842.0 2167.7,851.1 2168.6,848.4 2169.4,856.6 2170.2,830.3 2171.0,860.9 2171.9,861.3 2172.7,828.7 2173.5,833.4 2174.3,836.0 2175.1,842.4 2176.0,844.8 2176.8,813.9 2177.6,849.5 2178.4,839.6 2179.3,830.7 2180.1,853.5 2180.9,838.5 2181.7,855.7 2182.5,848.7 2183.4,838.7 2184.2,856.0 2185.0,851.8 2185.8,836.5 2186.7,823.7 2187.5,836.0 2188.3,849.5 2189.1,839.6 2190.0,862.8 2190.8,845.3 2191.6,844.5 2192.4,846.9 2193.2,832.0 2194.1,840.8 2194.9,834.5 2195.7,815.0 2196.5,821.6 2197.4,850.7 2198.2,837.0 2199.0,840.7 2199.8,825.0 2200.7,835.3 2201.5,851.2 2202.3,843.2 2203.1,836.1 2203.9,859.8 2204.8,841.4 2205.6,838.1 2206.4,855.4 2207.2,822.0 2208.1,848.6 2208.9,829.3 2209.7,833.1 2210.5,834.4 2211.3,843.9 2212.2,843.7 2213.0,846.1 2213.8,845.0 2214.6,858.8 2215.5,862.3 2216.3,851.0 2217.1,851.7 2217.9,838.7 2218.8,830.5 2219.6,850.2 2220.4,843.9 2221.2,853.6 2222.0,822.7 2222.9,875.0 2223.7,829.4 2224.5,844.7 2225.3,855.9 2226.2,828.5 2227.0,838.3 2227.8,821.4 2228.6,828.4 2229.4,822.7 2230.3,846.5 2231.1,848.8 2231.9,841.9 2232.7,860.3 2233.6,861.9 2234.4,845.9 2235.2,843.6 2236.0,843.1 2236.9,841.2 2237.7,861.7 2238.5,849.4"/>
<polyline id="curve-b" fill="none" stroke="#ff0000" stroke-width="3" stroke-linejoin="round" stroke-linecap="butt" shape-rendering="crispEdges" points="181.5,1106.9 182.3,1108.6 183.1,1107.0 184.0,1114.2 184.8,1137.5 185.6,1101.9 186.4,1130.7 187.3,1133.8 188.1,1114.7 188.9,1110.2 189.7,1123.1 190.6,1131.1 191.4,1141.4 192.2,1126.4 193.0,1133.9 193.8,1109.9 194.7,1104.5 195.5,1094.2 196.3,1100.2 197.1,1108.8 198.0,1114.6 198.8,1096.8 199.6,1120.8 200.4,1109.7 201.2,1102.9 202.1,1101.0 202.9,1132.5 203.7,1110.7 204.5,1097.9 205.4,1096.7 206.2,1128.5 207.0,1100.2 207.8,1120.1 208.7,1122.3 209.5,1078.7 210.3,1120.5 211.1,1102.1 211.9,1091.6 212.8,1097.4 213.6,1109.6 214.4,1107.0 215.2,1107.2 216.1,1093.5 216.9,1116.2 217.7,1118.3 218.5,1121.7 219.3,1111.7 220.2,1121.5 221.0,1123.4 221.8,1107.0 222.6,1108.6 223.5,1104.7 224.3,1104.0 225.1,1107.1 225.9,1077.1 226.8,1092.6 227.6,1101.6 228.4,1071.3 229.2,1078.5 230.0,1112.9 230.9,1082.1 231.7,1088.5 232.5,1097.7 233.3,1087.5 234.2,1082.7 235.0,1086.2 235.8,1086.8 236.6,1084.7 237.5,1093.0 238.3,1109.0 239.1,1094.2 239.9,1108.4 240.7,1097.8 241.6,1098.6 242.4,1095.3 243.2,1084.8 244.0,1092.8 244.9,1091.1 245.7,1074.5 246.5,1095.6 247.3,1093.3 248.1,1090.6 249.0,1079.7 249.8,1055.6 250.6,1102.5 251.4,1084.6 252.3,1060.2 253.1,1092.5 253.9,1076.8 254.7,1092.5 255.6,1083.3 256.4,1097.3 257.2,1086.8 258.0,1087.2 258.8,1085.5 259.7,1097.8 260.5,1068.6 261.3,1096.9 262.1,1091.1 263.0,1076.7 263.8,1082.9 264.6,1077.6 265.4,1083.3 266.2,1093.2 267.1,1074.5 267.9,1090.7 268.7,1092.8 269.5,1089.2 270.4,1099.6 271.2,1080.7 272.0,1089.3 272.8,1109.7 273.7,1081.4 274.5,1079.3 275.3,1080.8 276.1,1087.4 276.9,1073.4 277.8,1077.5 278.6,1060.0 279.4,1067.9 280.2,1068.1 281.1,1066.4 281.9,1074.5 282.7,1087.4 283.5,1074.9 284.4,1063.9 285.2,1081.7 286.0,1080.8 286.8,1062.5 287.6,1080.2 288.5,1066.0 289.3,1070.9 290.1,1069.6 290.9,1087.3 291.8,1068.3 292.6,1073.9 293.4,1079.6 294.2,1089.2 295.0,1090.7 295.9,1065.3 296.7,1090.5 297.5,1080.2 298.3,1090.3 299.2,1088.5 300.0,1070.2 300.8,1076.6 301.6,1072.6 302.5,1080.1 303.3,1094.7 304.1,1076.2 304.9,1067.8 305.7,1104.4 306.6,1063.7 307.4,1075.0 308.2,1074.6 309.0,1060.1 309.9,1083.6 310.7,1086.6 311.5,1073.3 312.3,1074.7 313.1,1072.1 314.0,1053.5 314.8,1076.5 315.6,1059.2 316.4,1062.4 317.3,1077.8 318.1,1083.8 318.9,1063.1 319.7,1086.0 320.6,1093.1 321.4,1074.7 322.2,1071.8 323.0,1074.9 323.8,1067.9 324.7,1062.6 325.5,1079.8 326.3,1080.6 327.1,1066.5 328.0,1067.6 328.8,1065.1 329.6,1064.2 330.4,1061.1 331.2,1054.9 332.1,1082.6 332.9,1068.2 333.7,1073.0 334.5,1092.8 335.4,1066.7 336.2,1078.9 337.0,1056.8 337.8,1065.1 338.7,1080.2 339.5,1069.3 340.3,1055.9 341.1,1054.7 341.9,1076.1 342.8,1061.6 343.6,1080.1 344.4,1075.4 345.2,1068.6 346.1,1071.6 346.9,1080.9 347.7,1072.7 348.5,1061.5 349.4,1076.2 350.2,1068.4 351.0,1069.8 351.8,1078.9 352.6,1076.2 353.5,1084.0 354.3,1070.4 355.1,1067.3 355.9,1068.6 356.8,1076.8 357.6,1063.4 358.4,1068.5 359.2,1063.0 360.0,1063.8 360.9,1070.6 361.7,1100.0 362.5,1068.3 363.3,1075.6 364.2,1073.8 365.0,1070.8 365.8,1073.1 366.6,1094.8 367.5,1069.8 368.3,1090.9 369.1,1080.1 369.9,1063.1 370.7,1065.6 371.6,1067.7 372.4,1060.7 373.2,1085.8 374.0,1077.6 374.9,1078.9 375.7,1061.5 376.5,1078.3 377.3,1067.0 378.1,1100.4 379.0,1072.1 379.8,1076.3 380.6,1077.8 381.4,1067.9 382.3,1068.9 383.1,1068.9 383.9,1082.9 384.7,1065.2 385.6,1071.6 386.4,1077.1 387.2,1068.8 388.0,1058.2 388.8,1060.1 389.7,1068.9 390.5,1062.7 391.3,1084.4 392.1,1073.8 393.0,1073.3 393.8,1062.4 394.6,1079.5 395.4,1069.7 396.3,1063.1 397.1,1066.6 397.9,1100.4 398.7,1067.0 399.5,1064.1 400.4,1086.7 401.2,1082.1 402.0,1070.7 402.8,1089.3 403.7,1057.6 404.5,1068.6 405.3,1055.7 406.1,1089.3 406.9,1074.5 407.8,1103.0 408.6,1079.2 409.4,1079.4 410.2,1061.5 411.1,1060.9 411.9,1068.7 412.7,1084.2 413.5,1062.4 414.4,1047.5 415.2,1083.5 416.0,1084.2 416.8,1063.7 417.6,1078.9 418.5,1086.4 419.3,1087.0 420.1,1056.4 420.9,1074.6 421.8,1065.2 422.6,1084.5 423.4,1074.8 424.2,1060.2 425.0,1074.9 425.9,1080.3 426.7,1056.3 427.5,1058.4 428.3,1065.9 429.2,1070.0 430.0,1067.0 430.8,1052.8 431.6,1055.7 432.5,1072.8 433.3,1077.8 434.1,1063.2 434.9,1075.0 435.7,1094.2 436.6,1070.7 437.4,1068.1 438.2,1065.1 439.0,1078.3 439.9,1075.6 440.7,1075.9 441.5,1068.8 442.3,1077.7 443.2,1077.7 444.0,1071.4 444.8,1086.0 445.6,1055.5 446.4,1081.0 447.3,1071.6 448.1,1082.4 448.9,1094.4 449.7,1073.5 450.6,1070.8 451.4,1072.7 452.2,1088.5 453.0,1090.3 453.8,1074.8 454.7,1080.2 455.5,1093.2 456.3,1079.0 457.1,1056.0 458.0,1063.7 458.8,1067.4 459.6,1077.3 460.4,1066.5 461.3,1088.5 462.1,1067.4 462.9,1090.5 463.7,1065.3 464.5,1087.9 465.4,1074.9 466.2,1088.8 467.0,1094.9 467.8,1092.5 468.7,1084.5 469.5,1064.2 470.3,1063.5 471.1,1036.7 471.9,1089.4 472.8,1087.1 473.6,1084.3 474.4,1059.9 475.2,1104.0 476.1,1065.2 476.9,1082.7 477.7,1054.4 478.5,1065.9 479.4,1086.8 480.2,1084.6 481.0,1060.6 481.8,1072.0 482.6,1085.8 483.5,1052.1 484.3,1081.8 485.1,1055.4 485.9,1080.3 486.8,1070.2 487.6,1084.3 488.4,1067.3 489.2,1069.1 490.1,1069.1 490.9,1062.2 491.7,1069.8 492.5,1061.4 493.3,1066.6 494.2,1080.8 495.0,1069.3 495.8,1085.3 496.6,1081.2 497.5,1082.6 498.3,1060.2 499.1,1078.0 499.9,1089.7 500.7,1083.7 501.6,1087.4 502.4,1090.8 503.2,1056.2 504.0,1080.0 504.9,1079.8 505.7,1071.4 506.5,1058.7 507.3,1075.4 508.2,1071.9 509.0,1096.1 509.8,1088.8 510.6,1069.2 511.4,1061.9 512.3,1064.3 513.1,1073.4 513.9,1065.8 514.7,1096.7 515.6,1060.6 516.4,1073.2 517.2,1076.0 518.0,1079.1 518.8,1063.8 519.7,1071.9 520.5,1076.6 521.3,1078.3 522.1,1068.0 523.0,1071.2 523.8,1077.2 524.6,1096.7 525.4,1061.1 526.3,1082.8 527.1,1093.0 527.9,1059.0 528.7,1091.6 529.5,1091.2 530.4,1075.9 531.2,1086.2 532.0,1092.1 532.8,1073.5 533.7,1077.9 534.5,1063.1 535.3,1067.4 536.1,1076.1 536.9,1074.3 537.8,1093.8 538.6,1072.8 539.4,1061.5 540.2,1085.5 541.1,1085.8 541.9,1079.8 542.7,1073.7 543.5,1066.2 544.4,1067.8 545.2,1092.6 546.0,1084.1 546.8,1076.3 547.6,1079.9 548.5,1071.1 549.3,1064.4 550.1,1069.6 550.9,1074.3 551.8,1056.1 552.6,1058.3 553.4,1054.9 554.2,1069.3 555.1,1081.3 555.9,1059.0 556.7,1061.1 557.5,1055.7 558.3,1068.6 559.2,1060.2 560.0,1062.1 560.8,1061.0 561.6,1099.1 562.5,1072.3 563.3,1065.8 564.1,1068.1 564.9,1083.1 565.7,1084.2 566.6,1076.1 567.4,1050.6 568.2,1084.2 569.0,1085.1 569.9,1081.7 570.7,1078.2 571.5,1073.6 572.3,1086.4 573.2,1069.2 574.0,1084.5 574.8,1067.0 575.6,1068.1 576.4,1067.3 577.3,1065.9 578.1,1066.6 578.9,1080.7 579.7,1089.8 580.6,1063.8 581.4,1059.8 582.2,1085.8 583.0,1067.6 583.8,1074.3 584.7,1072.7 585.5,1081.1 586.3,1060.3 587.1,1083.0 588.0,1078.6 588.8,1043.8 589.6,1066.3 590.4,1062.8 591.3,1070.1 592.1,1063.2 592.9,1052.5 593.7,1051.9 594.5,1049.5 595.4,1026.4 596.2,991.6 597.0,963.6 597.8,908.3 598.7,891.3 599.5,910.1 600.3,932.4 601.1,941.6 602.0,973.1 602.8,993.5 603.6,1003.6 604.4,1049.2 605.2,1063.0 606.1,1068.5 606.9,1063.0 607.7,1059.8 608.5,1070.5 609.4,1073.7 610.2,1080.0 611.0,1085.5 611.8,1079.9 612.6,1064.6 613.5,1070.9 614.3,1055.8 615.1,1080.3 615.9,1078.9 616.8,1086.1 617.6,1078.3 618.4,1090.8 619.2,1065.2 620.1,1077.1 620.9,1070.6 621.7,1071.1 622.5,1053.6 623.3,1065.3 624.2,1051.2 625.0,1070.2 625.8,1066.1 626.6,1075.6 627.5,1053.5 628.3,1068.3 629.1,1071.4 629.9,1048.2 630.7,1093.0 631.6,1080.0 632.4,1065.9 633.2,1096.1 634.0,1090.1 634.9,1046.7 635.7,1071.5 636.5,1067.9 637.3,1075.6 638.2,1064.4 639.0,1072.3 639.8,1076.2 640.6,1047.0 641.4,1076.9 642.3,1091.6 643.1,1077.1 643.9,1088.9 644.7,1094.0 645.6,1079.4 646.4,1080.7 647.2,1081.0 648.0,1071.7 648.9,1102.6 649.7,1081.9 650.5,1083.4 651.3,1088.0 652.1,1094.2 653.0,1061.9 653.8,1065.9 654.6,1079.4 655.4,1083.9 656.3,1064.3 657.1,1062.6 657.9,1087.2 658.7,1086.9 659.5,1075.5 660.4,1075.7 661.2,1071.9 662.0,1065.9 662.8,1069.5 663.7,1081.7 664.5,1077.8 665.3,1091.2 666.1,1065.3 667.0,1061.2 667.8,1087.3 668.6,1070.3 669.4,1077.7 670.2,1081.9 671.1,1067.4 671.9,1064.5 672.7,1085.3 673.5,1051.5 674.4,1089.8 675.2,1062.7 676.0,1092.4 676.8,1087.1 677.6,1086.5 678.5,1089.7 679.3,1086.0 680.1,1069.0 680.9,1094.4 681.8,1086.7 682.6,1090.8 683.4,1084.3 684.2,1083.1 685.1,1096.9 685.9,1097.4 686.7,1089.6 687.5,1073.4 688.3,1076.7 689.2,1076.1 690.0,1100.7 690.8,1094.0 691.6,1089.2 692.5,1087.0 693.3,1080.4 694.1,1098.3 694.9,1077.3 695.8,1079.6 696.6,1099.0 697.4,1096.7 698.2,1088.8 699.0,1075.1 699.9,1075.2 700.7,1099.3 701.5,1093.9 702.3,1106.6 703.2,1084.2 704.0,1088.6 704.8,1078.7 705.6,1108.2 706.4,1070.0 707.3,1096.3 708.1,1107.6 708.9,1078.1 709.7,1072.5 710.6,1077.4 711.4,1072.6 712.2,1092.8 713.0,1087.7 713.9,1078.3 714.7,1085.5 715.5,1106.0 716.3,1085.9 717.1,1084.3 718.0,1111.1 718.8,1078.8 719.6,1083.7 720.4,1105.9 721.3,1089.6 722.1,1067.4 722.9,1079.4 723.7,1063.7 724.5,1082.1 725.4,1093.4 726.2,1070.9 727.0,1107.5 727.8,1104.6 728.7,1099.5 729.5,1082.0 730.3,1091.0 731.1,1097.2 732.0,1102.0 732.8,1105.8 733.6,1066.5 734.4,1083.3 735.2,1078.4 736.1,1088.0 736.9,1094.4 737.7,1118.6 738.5,1091.3 739.4,1103.0 740.2,1094.0 741.0,1092.5 741.8,1113.2 742.6,1080.4 743.5,1101.1 744.3,1117.4 745.1,1133.1 745.9,1087.9 746.8,1083.2 747.6,1079.5 748.4,1089.4 749.2,1094.1 750.1,1094.4 750.9,1107.2 751.7,1090.6 752.5,1097.9 753.3,1075.2 754.2,1086.6 755.0,1092.4 755.8,1066.8 756.6,1095.5 757.5,1104.2 758.3,1094.8 759.1,1096.4 759.9,1093.7 760.8,1079.9 761.6,1094.1 762.4,1087.0 763.2,1094.5 764.0,1094.1 764.9,1094.5 765.7,1077.8 766.5,1092.3 767.3,1113.0 768.2,1103.5 769.0,1089.9 769.8,1084.0 770.6,1103.7 771.4,1092.1 772.3,1071.5 773.1,1086.7 773.9,1111.1 774.7,1072.0 775.6,1092.1 776.4,1082.4 777.2,1090.2 778.0,1086.0 778.9,1080.4 779.7,1060.6 780.5,1087.7 781.3,1090.4 782.1,1088.3 783.0,1077.3 783.8,1082.3 784.6,1114.9 785.4,1076.1 786.3,1085.1 787.1,1074.3 787.9,1085.9 788.7,1091.2 789.5,1102.2 790.4,1090.6 791.2,1087.8 792.0,1091.8 792.8,1093.9 793.7,1086.7 794.5,1086.6 795.3,1100.8 796.1,1078.0 797.0,1085.0 797.8,1074.9 798.6,1079.1 799.4,1101.8 800.2,1075.8 801.1,1089.2 801.9,1107.0 802.7,1087.8 803.5,1078.8 804.4,1070.5 805.2,1048.7 806.0,1065.4 806.8,1063.8 807.7,1083.1 808.5,1077.1 809.3,1050.3 810.1,1067.7 810.9,1046.9 811.8,1066.3 812.6,1048.5 813.4,1016.3 814.2,965.6 815.1,926.2 815.9,822.2 816.7,699.9 817.5,560.0 818.3,458.1 819.2,442.8 820.0,487.0 820.8,554.7 821.6,605.7 822.5,654.4 823.3,754.0 824.1,837.7 824.9,909.8 825.8,969.5 826.6,1017.5 827.4,1019.8 828.2,1035.4 829.0,1065.6 829.9,1065.8 830.7,1048.4 831.5,1073.4 832.3,1055.3 833.2,1085.3 834.0,1082.4 834.8,1086.4 835.6,1064.5 836.4,1074.2 837.3,1094.3 838.1,1069.0 838.9,1091.9 839.7,1084.1 840.6,1088.9 841.4,1078.2 842.2,1095.2 843.0,1093.3 843.9,1099.0 844.7,1118.2 845.5,1087.5 846.3,1091.2 847.1,1078.5 848.0,1111.1 848.8,1087.2 849.6,1100.5 850.4,1078.7 851.3,1089.1 852.1,1099.2 852.9,1098.0 853.7,1089.5 854.6,1103.2 855.4,1094.4 856.2,1105.4 857.0,1090.7 857.8,1101.0 858.7,1088.2 859.5,1108.5 860.3,1093.9 861.1,1094.6 862.0,1087.4 862.8,1105.8 863.6,1096.0 864.4,1091.6 865.2,1109.4 866.1,1085.4 866.9,1105.6 867.7,1111.5 868.5,1074.3 869.4,1104.6 870.2,1100.5 871.0,1096.5 871.8,1098.2 872.7,1080.0 873.5,1099.6 874.3,1096.3 875.1,1076.2 875.9,1090.7 876.8,1078.4 877.6,1092.5 878.4,1080.0 879.2,1090.0 880.1,1070.5 880.9,1078.7 881.7,1077.9 882.5,1077.9 883.3,1091.3 884.2,1101.7 885.0,1058.3 885.8,1085.7 886.6,1074.2 887.5,1076.2 888.3,1078.7 889.1,1083.4 889.9,1087.1 890.8,1100.5 891.6,1108.1 892.4,1099.8 893.2,1098.1 894.0,1105.7 894.9,1105.1 895.7,1122.3 896.5,1091.4 897.3,1087.1 898.2,1100.5 899.0,1107.5 899.8,1101.9 900.6,1107.3 901.5,1075.5 902.3,1096.4 903.1,1097.8 903.9,1090.2 904.7,1098.8 905.6,1103.1 906.4,1110.3 907.2,1095.4 908.0,1087.1 908.9,1110.6 909.7,1128.0 910.5,1107.9 911.3,1107.6 912.1,1094.9 913.0,1108.6 913.8,1124.1 914.6,1083.9 915.4,1117.7 916.3,1084.0 917.1,1123.0 917.9,1115.5 918.7,1102.7 919.6,1109.4 920.4,1125.0 921.2,1094.1 922.0,1119.6 922.8,1112.9 923.7,1106.3 924.5,1122.6 925.3,1087.6 926.1,1104.8 927.0,1092.6 927.8,1105.5 928.6,1112.1 929.4,1087.8 930.2,1109.1 931.1,1109.1 931.9,1099.2 932.7,1104.9 933.5,1118.0 934.4,1109.2 935.2,1124.1 936.0,1093.7 936.8,1091.3 937.7,1119.0 938.5,1090.2 939.3,1119.1 940.1,1105.1 940.9,1112.9 941.8,1101.3 942.6,1117.0 943.4,1120.2 944.2,1118.8 945.1,1110.7 945.9,1090.2 946.7,1116.0 947.5,1106.3 948.3,1120.0 949.2,1088.0 950.0,1110.0 950.8,1100.0 951.6,1104.6 952.5,1114.8 953.3,1114.2 954.1,1121.0 954.9,1110.2 955.8,1111.1 956.6,1108.5 957.4,1092.0 958.2,1117.0 959.0,1095.7 959.9,1099.1 960.7,1109.8 961.5,1097.3 962.3,1099.6 963.2,1076.8 964.0,1094.9 964.8,1092.1 965.6,1097.5 966.5,1110.6 967.3,1101.4 968.1,1102.9 968.9,1105.7 969.7,1115.9 970.6,1116.8 971.4,1109.3 972.2,1101.9 973.0,1114.7 973.9,1101.4 974.7,1102.7 975.5,1108.1 976.3,1099.2 977.1,1092.3 978.0,1090.7 978.8,1101.1 979.6,1106.9 980.4,1111.6 981.3,1095.6 982.1,1106.7 982.9,1104.5 983.7,1099.1 984.6,1132.1 985.4,1095.6 986.2,1094.4 987.0,1105.1 987.8,1120.7 988.7,1099.2 989.5,1118.0 990.3,1091.6 991.1,1098.3 992.0,1100.3 992.8,1099.4 993.6,1102.6 994.4,1100.7 995.2,1099.4 996.1,1090.4 996.9,1106.8 997.7,1101.6 998.5,1103.7 999.4,1113.9 1000.2,1106.3 1001.0,1103.1 1001.8,1116.0 1002.7,1095.2 1003.5,1082.6 1004.3,1093.4 1005.1,1086.0 1005.9,1096.6 1006.8,1096.6 1007.6,1098.2 1008.4,1101.9 1009.2,1105.6 1010.1,1103.2 1010.9,1100.0 1011.7,1094.8 1012.5,1092.5 1013.4,1097.6 1014.2,1094.7 1015.0,1085.5 1015.8,1092.7 1016.6,1104.7 1017.5,1097.5 1018.3,1087.7 1019.1,1099.3 1019.9,1103.4 1020.8,1084.7 1021.6,1114.5 1022.4,1108.8 1023.2,1094.6 1024.0,1108.3 1024.9,1099.0 1025.7,1102.9 1026.5,1086.4 1027.3,1090.6 1028.2,1093.3 1029.0,1094.6 1029.8,1090.3 1030.6,1078.3 1031.5,1083.3 1032.3,1099.8 1033.1,1090.7 1033.9,1113.0 1034.7,1109.4 1035.6,1092.2 1036.4,1096.7 1037.2,1074.6 1038.0,1101.9 1038.9,1106.1 1039.7,1085.8 1040.5,1085.6 1041.3,1087.8 1042.1,1101.7 1043.0,1105.0 1043.8,1083.1 1044.6,1089.5 1045.4,1099.3 1046.3,1095.9 1047.1,1090.3 1047.9,1099.0 1048.7,1083.6 1049.6,1077.4 1050.4,1099.9 1051.2,1101.1 1052.0,1107.3 1052.8,1089.9 1053.7,1084.2 1054.5,1093.9 1055.3,1092.2 1056.1,1093.8 1057.0,1092.1 1057.8,1107.2 1058.6,1096.2 1059.4,1107.3 1060.3,1085.2 1061.1,1081.9 1061.9,1102.5 1062.7,1079.6 1063.5,1080.1 1064.4,1080.2 1065.2,1072.5 1066.0,1097.1 1066.8,1110.1 1067.7,1098.0 1068.5,1100.7 1069.3,1088.0 1070.1,1081.2 1070.9,1097.1 1071.8,1078.7 1072.6,1074.5 1073.4,1081.5 1074.2,1102.0 1075.1,1094.4 1075.9,1087.5 1076.7,1078.3 1077.5,1079.5 1078.4,1093.0 1079.2,1088.3 1080.0,1080.6 1080.8,1101.0 1081.6,1081.3 1082.5,1070.7 1083.3,1085.1 1084.1,1099.1 1084.9,1094.9 1085.8,1097.0 1086.6,1078.0 1087.4,1091.3 1088.2,1087.7 1089.0,1083.3 1089.9,1073.3 1090.7,1098.8 1091.5,1086.4 1092.3,1079.1 1093.2,1092.8 1094.0,1112.0 1094.8,1068.0 1095.6,1086.8 1096.5,1103.5 1097.3,1103.5 1098.1,1072.1 1098.9,1077.3 1099.7,1060.5 1100.6,1082.1 1101.4,1065.2 1102.2,1070.2 1103.0,1096.9 1103.9,1068.2 1104.7,1061.7 1105.5,1081.3 1106.3,1083.2 1107.2,1083.4 1108.0,1093.6 1108.8,1073.2 1109.6,1079.2 1110.4,1087.6 1111.3,1075.9 1112.1,1095.6 1112.9,1090.9 1113.7,1080.4 1114.6,1077.9 1115.4,1080.1 1116.2,1083.0 1117.0,1057.5 1117.8,1064.6 1118.7,1069.6 1119.5,1068.5 1120.3,1070.2 1121.1,1069.9 1122.0,1076.6 1122.8,1071.2 1123.6,1077.2 1124.4,1075.4 1125.3,1069.0 1126.1,1061.6 1126.9,1052.1 1127.7,1057.5 1128.5,1026.1 1129.4,1004.2 1130.2,970.7 1131.0,930.8 1131.8,912.8 1132.7,927.1 1133.5,965.5 1134.3,960.8 1135.1,987.4 1135.9,971.4 1136.8,990.0 1137.6,1018.5 1138.4,1019.3 1139.2,1056.8 1140.1,1033.5 1140.9,1062.7 1141.7,1061.4 1142.5,1075.3 1143.4,1080.8 1144.2,1086.4 1145.0,1086.8 1145.8,1070.4 1146.6,1065.5 1147.5,1080.7 1148.3,1070.4 1149.1,1053.3 1149.9,1052.7 1150.8,1072.2 1151.6,1072.4 1152.4,1077.9 1153.2,1079.4 1154.0,1059.6 1154.9,1080.6 1155.7,1064.8 1156.5,1082.4 1157.3,1077.4 1158.2,1095.1 1159.0,1081.9 1159.8,1072.0 1160.6,1075.2 1161.5,1078.5 1162.3,1084.5 1163.1,1086.7 1163.9,1068.8 1164.7,1067.3 1165.6,1086.9 1166.4,1078.9 1167.2,1090.7 1168.0,1084.5 1168.9,1097.9 1169.7,1086.4 1170.5,1065.9 1171.3,1074.8 1172.2,1085.6 1173.0,1067.9 1173.8,1079.7 1174.6,1087.1 1175.4,1092.0 1176.3,1089.4 1177.1,1063.3 1177.9,1092.9 1178.7,1070.2 1179.6,1081.0 1180.4,1071.1 1181.2,1090.6 1182.0,1079.6 1182.8,1083.1 1183.7,1085.3 1184.5,1079.8 1185.3,1073.6 1186.1,1096.4 1187.0,1087.2 1187.8,1089.3 1188.6,1061.6 1189.4,1058.9 1190.3,1099.1 1191.1,1088.7 1191.9,1061.4 1192.7,1085.3 1193.5,1081.7 1194.4,1069.9 1195.2,1076.0 1196.0,1100.7 1196.8,1072.8 1197.7,1086.0 1198.5,1071.8 1199.3,1063.9 1200.1,1107.2 1200.9,1088.1 1201.8,1075.5 1202.6,1076.7 1203.4,1077.7 1204.2,1069.2 1205.1,1085.5 1205.9,1087.6 1206.7,1076.1 1207.5,1080.1 1208.4,1066.5 1209.2,1083.5 1210.0,1059.1 1210.8,1079.6 1211.6,1096.7 1212.5,1077.7 1213.3,1110.6 1214.1,1069.0 1214.9,1078.3 1215.8,1080.8 1216.6,1091.2 1217.4,1094.4 1218.2,1083.2 1219.1,1064.8 1219.9,1097.1 1220.7,1088.6 1221.5,1090.3 1222.3,1064.2 1223.2,1086.8 1224.0,1079.7 1224.8,1092.1 1225.6,1100.5 1226.5,1072.4 1227.3,1080.5 1228.1,1082.1 1228.9,1073.3 1229.7,1087.7 1230.6,1087.4 1231.4,1072.2 1232.2,1072.5 1233.0,1084.7 1233.9,1062.6 1234.7,1085.4 1235.5,1091.4 1236.3,1091.4 1237.2,1072.1 1238.0,1101.7 1238.8,1104.9 1239.6,1070.4 1240.4,1101.4 1241.3,1097.1 1242.1,1092.7 1242.9,1075.0 1243.7,1094.4 1244.6,1071.6 1245.4,1084.2 1246.2,1092.7 1247.0,1089.6 1247.8,1081.2 1248.7,1088.4 1249.5,1083.1 1250.3,1087.6 1251.1,1076.4 1252.0,1072.1 1252.8,1078.7 1253.6,1071.4 1254.4,1096.9 1255.3,1112.7 1256.1,1092.1 1256.9,1097.4 1257.7,1073.4 1258.5,1083.3 1259.4,1072.6 1260.2,1091.6 1261.0,1085.8 1261.8,1073.8 1262.7,1099.6 1263.5,1084.0 1264.3,1092.8 1265.1,1093.9 1266.0,1099.6 1266.8,1097.9 1267.6,1084.5 1268.4,1081.5 1269.2,1076.9 1270.1,1072.3 1270.9,1102.2 1271.7,1077.1 1272.5,1098.1 1273.4,1073.5 1274.2,1074.9 1275.0,1092.7 1275.8,1080.3 1276.6,1073.3 1277.5,1098.9 1278.3,1067.9 1279.1,1072.7 1279.9,1088.5 1280.8,1097.2 1281.6,1080.8 1282.4,1071.8 1283.2,1104.5 1284.1,1080.6 1284.9,1073.7 1285.7,1081.6 1286.5,1092.8 1287.3,1050.1 1288.2,1068.9 1289.0,1087.7 1289.8,1085.7 1290.6,1080.5 1291.5,1078.3 1292.3,1086.1 1293.1,1091.3 1293.9,1073.7 1294.7,1075.2 1295.6,1087.8 1296.4,1076.0 1297.2,1065.5 1298.0,1077.5 1298.9,1067.6 1299.7,1086.0 1300.5,1088.7 1301.3,1072.7 1302.2,1078.1 1303.0,1083.3 1303.8,1093.0 1304.6,1090.5 1305.4,1082.7 1306.3,1083.8 1307.1,1094.6 1307.9,1087.2 1308.7,1085.9 1309.6,1069.0 1310.4,1082.6 1311.2,1085.3 1312.0,1081.4 1312.8,1069.6 1313.7,1061.4 1314.5,1087.1 1315.3,1087.3 1316.1,1082.0 1317.0,1071.2 1317.8,1075.7 1318.6,1079.9 1319.4,1088.6 1320.3,1081.8 1321.1,1072.2 1321.9,1075.5 1322.7,1068.5 1323.5,1100.3 1324.4,1073.5 1325.2,1096.6 1326.0,1084.4 1326.8,1101.0 1327.7,1070.2 1328.5,1089.7 1329.3,1072.3 1330.1,1072.6 1331.0,1074.2 1331.8,1068.0 1332.6,1072.4 1333.4,1079.2 1334.2,1099.5 1335.1,1077.4 1335.9,1065.8 1336.7,1088.7 1337.5,1096.9 1338.4,1055.0 1339.2,1087.2 1340.0,1067.3 1340.8,1062.5 1341.6,1089.2 1342.5,1098.0 1343.3,1102.2 1344.1,1082.9 1344.9,1078.8 1345.8,1084.8 1346.6,1089.4 1347.4,1092.8 1348.2,1098.1 1349.1,1088.1 1349.9,1090.2 1350.7,1086.4 1351.5,1076.0 1352.3,1089.0 1353.2,1100.2 1354.0,1092.5 1354.8,1061.5 1355.6,1101.1 1356.5,1075.5 1357.3,1109.3 1358.1,1107.8 1358.9,1092.2 1359.7,1104.8 1360.6,1076.0 1361.4,1082.6 1362.2,1077.2 1363.0,1088.5 1363.9,1085.2 1364.7,1087.1 1365.5,1085.7 1366.3,1100.4 1367.2,1084.4 1368.0,1079.5 1368.8,1085.2 1369.6,1089.0 1370.4,1088.5 1371.3,1072.5 1372.1,1078.0 1372.9,1079.8 1373.7,1072.8 1374.6,1065.3 1375.4,1075.7 1376.2,1053.6 1377.0,1078.7 1377.9,1067.7 1378.7,1078.0 1379.5,1079.8 1380.3,1102.0 1381.1,1102.8 1382.0,1105.4 1382.8,1082.1 1383.6,1075.7 1384.4,1090.1 1385.3,1069.4 1386.1,1079.6 1386.9,1072.1 1387.7,1079.7 1388.5,1088.4 1389.4,1068.2 1390.2,1082.7 1391.0,1081.7 1391.8,1081.9 1392.7,1084.7 1393.5,1074.9 1394.3,1078.2 1395.1,1075.0 1396.0,1061.8 1396.8,1094.9 1397.6,1086.1 1398.4,1085.7 1399.2,1071.1 1400.1,1058.9 1400.9,1080.9 1401.7,1067.9 1402.5,1097.3 1403.4,1096.6 1404.2,1071.8 1405.0,1092.0 1405.8,1085.2 1406.6,1076.3 1407.5,1060.0 1408.3,1083.6 1409.1,1086.6 1409.9,1086.9 1410.8,1071.1 1411.6,1077.5 1412.4,1077.6 1413.2,1077.3 1414.1,1070.2 1414.9,1088.7 1415.7,1083.1 1416.5,1072.5 1417.3,1081.4 1418.2,1087.3 1419.0,1080.3 1419.8,1079.9 1420.6,1084.9 1421.5,1068.0 1422.3,1083.8 1423.1,1068.9 1423.9,1078.4 1424.8,1089.6 1425.6,1071.2 1426.4,1088.7 1427.2,1083.3 1428.0,1091.0 1428.9,1059.7 1429.7,1033.3 1430.5,1065.7 1431.3,1098.8 1432.2,1079.5 1433.0,1073.4 1433.8,1076.6 1434.6,1081.2 1435.4,1074.4 1436.3,1101.6 1437.1,1077.5 1437.9,1061.7 1438.7,1062.0 1439.6,1074.7 1440.4,1075.9 1441.2,1084.9 1442.0,1086.2 1442.9,1087.0 1443.7,1064.5 1444.5,1080.3 1445.3,1068.4 1446.1,1077.4 1447.0,1064.0 1447.8,1089.8 1448.6,1090.6 1449.4,1079.1 1450.3,1064.8 1451.1,1086.7 1451.9,1078.4 1452.7,1060.2 1453.5,1082.1 1454.4,1084.5 1455.2,1080.1 1456.0,1055.2 1456.8,1082.3 1457.7,1085.1 1458.5,1067.9 1459.3,1086.3 1460.1,1079.9 1461.0,1084.9 1461.8,1055.2 1462.6,1070.9 1463.4,1079.3 1464.2,1057.5 1465.1,1075.1 1465.9,1092.7 1466.7,1056.8 1467.5,1089.2 1468.4,1083.5 1469.2,1063.8 1470.0,1064.6 1470.8,1063.8 1471.7,1076.9 1472.5,1047.6 1473.3,1080.6 1474.1,1056.4 1474.9,1069.0 1475.8,1068.2 1476.6,1081.4 1477.4,1061.9 1478.2,1063.7 1479.1,1085.9 1479.9,1090.9 1480.7,1072.1 1481.5,1068.7 1482.3,1075.4 1483.2,1073.2 1484.0,1072.5 1484.8,1061.3 1485.6,1047.7 1486.5,1074.7 1487.3,1071.5 1488.1,1084.6 1488.9,1084.3 1489.8,1090.2 1490.6,1066.3 1491.4,1079.9 1492.2,1058.0 1493.0,1074.6 1493.9,1077.3 1494.7,1063.5 1495.5,1070.4 1496.3,1098.7 1497.2,1062.1 1498.0,1083.0 1498.8,1067.4 1499.6,1081.4 1500.4,1042.8 1501.3,1056.8 1502.1,1068.5 1502.9,1089.7 1503.7,1069.4 1504.6,1057.4 1505.4,1066.2 1506.2,1079.7 1507.0,1053.8 1507.9,1071.6 1508.7,1068.8 1509.5,1066.4 1510.3,1075.4 1511.1,1062.6 1512.0,1077.3 1512.8,1078.0 1513.6,1090.3 1514.4,1074.8 1515.3,1070.4 1516.1,1058.8 1516.9,1065.1 1517.7,1056.6 1518.5,1086.3 1519.4,1045.2 1520.2,1075.7 1521.0,1076.2 1521.8,1078.3 1522.7,1066.0 1523.5,1095.5 1524.3,1067.1 1525.1,1053.0 1526.0,1063.2 1526.8,1062.2 1527.6,1084.8 1528.4,1069.7 1529.2,1059.9 1530.1,1059.7 1530.9,1068.2 1531.7,1064.6 1532.5,1068.5 1533.4,1080.7 1534.2,1054.0 1535.0,1061.8 1535.8,1071.8 1536.7,1052.4 1537.5,1075.9 1538.3,1084.0 1539.1,1070.0 1539.9,1077.5 1540.8,1064.3 1541.6,1067.9 1542.4,1070.3 1543.2,1066.1 1544.1,1079.3 1544.9,1059.4 1545.7,1073.3 1546.5,1056.7 1547.3,1077.1 1548.2,1072.6 1549.0,1058.5 1549.8,1036.0 1550.6,1038.0 1551.5,1014.1 1552.3,1048.9 1553.1,1030.0 1553.9,1022.6 1554.8,1027.1 1555.6,1006.9 1556.4,1014.7 1557.2,1020.0 1558.0,1027.9 1558.9,1042.5 1559.7,1010.0 1560.5,1032.1 1561.3,1018.2 1562.2,1017.2 1563.0,1037.0 1563.8,1036.4 1564.6,1024.0 1565.4,1044.4 1566.3,1070.5 1567.1,1043.1 1567.9,1045.9 1568.7,1070.9 1569.6,1062.0 1570.4,1052.7 1571.2,1068.0 1572.0,1057.8 1572.9,1055.9 1573.7,1069.9 1574.5,1056.1 1575.3,1075.3 1576.1,1084.9 1577.0,1059.9 1577.8,1059.7 1578.6,1059.5 1579.4,1067.4 1580.3,1059.0 1581.1,1069.0 1581.9,1077.0 1582.7,1055.8 1583.6,1070.8 1584.4,1081.3 1585.2,1077.9 1586.0,1058.1 1586.8,1082.7 1587.7,1057.7 1588.5,1079.9 1589.3,1050.6 1590.1,1075.4 1591.0,1065.2 1591.8,1064.8 1592.6,1064.1 1593.4,1057.5 1594.2,1073.6 1595.1,1070.3 1595.9,1077.8 1596.7,1059.2 1597.5,1076.8 1598.4,1080.0 1599.2,1058.5 1600.0,1082.8 1600.8,1086.1 1601.7,1055.5 1602.5,1058.5 1603.3,1096.8 1604.1,1073.2 1604.9,1067.9 1605.8,1059.0 1606.6,1077.1 1607.4,1064.7 1608.2,1074.3 1609.1,1072.2 1609.9,1075.3 1610.7,1077.5 1611.5,1067.0 1612.3,1075.4 1613.2,1077.0 1614.0,1067.5 1614.8,1062.3 1615.6,1073.5 1616.5,1088.2 1617.3,1068.5 1618.1,1065.4 1618.9,1074.2 1619.8,1065.7 1620.6,1071.8 1621.4,1070.6 1622.2,1064.7 1623.0,1075.0 1623.9,1061.5 1624.7,1062.8 1625.5,1052.2 1626.3,1062.2 1627.2,1073.4 1628.0,1084.1 1628.8,1104.9 1629.6,1069.7 1630.5,1066.0 1631.3,1092.9 1632.1,1054.9 1632.9,1081.0 1633.7,1074.5 1634.6,1089.3 1635.4,1068.9 1636.2,1073.1 1637.0,1052.1 1637.9,1064.1 1638.7,1070.5 1639.5,1064.6 1640.3,1062.9 1641.1,1082.6 1642.0,1054.3 1642.8,1052.0 1643.6,1053.9 1644.4,1062.0 1645.3,1059.4 1646.1,1066.4 1646.9,1061.8 1647.7,1089.1 1648.6,1061.6 1649.4,1067.6 1650.2,1075.8 1651.0,1095.4 1651.8,1067.7 1652.7,1063.3 1653.5,1080.5 1654.3,1064.6 1655.1,1051.6 1656.0,1051.6 1656.8,1063.7 1657.6,1053.1 1658.4,1080.4 1659.2,1073.0 1660.1,1086.8 1660.9,1070.4 1661.7,1064.0 1662.5,1075.3 1663.4,1074.7 1664.2,1056.9 1665.0,1085.9 1665.8,1068.9 1666.7,1075.7 1667.5,1060.2 1668.3,1077.5 1669.1,1091.0 1669.9,1063.7 1670.8,1054.3 1671.6,1066.8 1672.4,1066.5 1673.2,1072.1 1674.1,1046.8 1674.9,1075.7 1675.7,1067.1 1676.5,1060.4 1677.4,1049.8 1678.2,1065.6 1679.0,1075.1 1679.8,1068.0 1680.6,1067.7 1681.5,1062.9 1682.3,1065.2 1683.1,1046.4 1683.9,1078.1 1684.8,1072.7 1685.6,1058.0 1686.4,1061.1 1687.2,1044.7 1688.0,1050.1 1688.9,1063.9 1689.7,1050.9 1690.5,1045.4 1691.3,1053.5 1692.2,1062.8 1693.0,1042.9 1693.8,1058.3 1694.6,1057.4 1695.5,1054.8 1696.3,1048.9 1697.1,1035.9 1697.9,1018.4 1698.7,1009.2 1699.6,956.8 1700.4,930.0 1701.2,866.8 1702.0,837.3 1702.9,837.8 1703.7,861.5 1704.5,912.4 1705.3,948.0 1706.1,941.9 1707.0,944.2 1707.8,935.1 1708.6,918.8 1709.4,922.9 1710.3,925.7 1711.1,968.0 1711.9,1011.2 1712.7,1004.9 1713.6,1021.7 1714.4,1043.3 1715.2,1049.0 1716.0,1037.5 1716.8,1044.7 1717.7,1055.9 1718.5,1060.0 1719.3,1080.4 1720.1,1071.4 1721.0,1064.5 1721.8,1062.2 1722.6,1071.4 1723.4,1093.1 1724.2,1060.4 1725.1,1054.7 1725.9,1051.3 1726.7,1065.1 1727.5,1052.2 1728.4,1044.0 1729.2,1056.7 1730.0,1056.7 1730.8,1076.2 1731.7,1083.3 1732.5,1060.8 1733.3,1060.7 1734.1,1078.0 1734.9,1066.4 1735.8,1062.1 1736.6,1075.8 1737.4,1056.1 1738.2,1073.9 1739.1,1090.0 1739.9,1050.4 1740.7,1071.6 1741.5,1063.9 1742.4,1080.9 1743.2,1077.4 1744.0,1056.9 1744.8,1064.5 1745.6,1056.4 1746.5,1077.5 1747.3,1056.0 1748.1,1064.5 1748.9,1075.6 1749.8,1060.2 1750.6,1053.0 1751.4,1052.0 1752.2,1053.3 1753.0,1062.6 1753.9,1061.1 1754.7,1069.5 1755.5,1063.8 1756.3,1077.9 1757.2,1073.2 1758.0,1080.7 1758.8,1058.3 1759.6,1051.6 1760.5,1079.6 1761.3,1069.5 1762.1,1041.8 1762.9,1058.5 1763.7,1069.8 1764.6,1078.4 1765.4,1091.2 1766.2,1077.6 1767.0,1068.1 1767.9,1059.9 1768.7,1055.5 1769.5,1057.4 1770.3,1052.5 1771.1,1064.4 1772.0,1076.4 1772.8,1070.4 1773.6,1053.9 1774.4,1072.5 1775.3,1077.3 1776.1,1063.4 1776.9,1062.2 1777.7,1065.1 1778.6,1070.1 1779.4,1043.0 1780.2,1055.1 1781.0,1050.0 1781.8,1065.0 1782.7,1070.1 1783.5,1058.6 1784.3,1076.2 1785.1,1066.8 1786.0,1067.8 1786.8,1065.8 1787.6,1052.0 1788.4,1083.9 1789.3,1067.3 1790.1,1046.7 1790.9,1071.5 1791.7,1074.8 1792.5,1050.8 1793.4,1066.2 1794.2,1082.5 1795.0,1071.4 1795.8,1066.6 1796.7,1065.8 1797.5,1070.3 1798.3,1054.4 1799.1,1060.7 1799.9,1068.7 1800.8,1065.3 1801.6,1080.2 1802.4,1045.5 1803.2,1088.3 1804.1,1060.1 1804.9,1058.0 1805.7,1064.7 1806.5,1077.0 1807.4,1062.9 1808.2,1080.4 1809.0,1078.4 1809.8,1066.6 1810.6,1064.2 1811.5,1064.4 1812.3,1069.0 1813.1,1050.8 1813.9,1081.8 1814.8,1067.3 1815.6,1069.4 1816.4,1059.6 1817.2,1059.9 1818.0,1083.4 1818.9,1045.9 1819.7,1069.6 1820.5,1058.4 1821.3,1048.5 1822.2,1074.3 1823.0,1056.9 1823.8,1073.9 1824.6,1062.2 1825.5,1042.6 1826.3,1064.6 1827.1,1052.6 1827.9,1062.7 1828.7,1061.7 1829.6,1069.9 1830.4,1065.9 1831.2,1061.6 1832.0,1057.9 1832.9,1048.7 1833.7,1041.5 1834.5,1066.8 1835.3,1050.9 1836.2,1058.9 1837.0,1071.6 1837.8,1073.7 1838.6,1073.9 1839.4,1066.5 1840.3,1069.4 1841.1,1069.1 1841.9,1067.5 1842.7,1051.4 1843.6,1067.6 1844.4,1074.6 1845.2,1063.8 1846.0,1065.7 1846.8,1037.4 1847.7,1053.2 1848.5,1090.6 1849.3,1053.2 1850.1,1070.6 1851.0,1077.9 1851.8,1075.2 1852.6,1066.4 1853.4,1063.8 1854.3,1050.2 1855.1,1083.1 1855.9,1065.3 1856.7,1077.0 1857.5,1047.0 1858.4,1042.8 1859.2,1042.4 1860.0,1072.9 1860.8,1060.8 1861.7,1061.0 1862.5,1066.8 1863.3,1064.8 1864.1,1065.4 1864.9,1056.0 1865.8,1052.7 1866.6,1065.1 1867.4,1074.6 1868.2,1057.2 1869.1,1064.6 1869.9,1059.6 1870.7,1068.6 1871.5,1050.4 1872.4,1084.3 1873.2,1083.0 1874.0,1064.6 1874.8,1062.0 1875.6,1044.6 1876.5,1073.4 1877.3,1065.1 1878.1,1065.6 1878.9,1045.6 1879.8,1071.2 1880.6,1083.6 1881.4,1051.4 1882.2,1060.7 1883.1,1076.8 1883.9,1070.9 1884.7,1071.1 1885.5,1097.6 1886.3,1079.0 1887.2,1065.4 1888.0,1032.4 1888.8,1061.2 1889.6,1048.1 1890.5,1048.8 1891.3,1076.9 1892.1,1050.7 1892.9,1060.9 1893.7,1078.0 1894.6,1054.4 1895.4,1056.3 1896.2,1049.1 1897.0,1056.7 1897.9,1043.9 1898.7,1064.0 1899.5,1053.6 1900.3,1066.1 1901.2,1067.8 1902.0,1059.9 1902.8,1062.0 1903.6,1056.0 1904.4,1065.9 1905.3,1070.0 1906.1,1064.7 1906.9,1074.9 1907.7,1061.8 1908.6,1058.9 1909.4,1064.5 1910.2,1041.2 1911.0,1052.8 1911.8,1035.2 1912.7,1060.1 1913.5,1067.2 1914.3,1042.1 1915.1,1047.8 1916.0,1048.6 1916.8,1067.5 1917.6,1058.0 1918.4,1067.4 1919.3,1059.3 1920.1,1058.6 1920.9,1028.7 1921.7,1025.4 1922.5,1061.2 1923.4,1070.7 1924.2,1028.8 1925.0,1027.1 1925.8,1048.1 1926.7,1051.7 1927.5,1006.3 1928.3,995.4 1929.1,987.5 1930.0,944.1 1930.8,895.4 1931.6,842.4 1932.4,785.8 1933.2,767.1 1934.1,790.7 1934.9,819.4 1935.7,876.8 1936.5,896.2 1937.4,924.2 1938.2,906.8 1939.0,892.1 1939.8,892.5 1940.6,890.5 1941.5,915.0 1942.3,923.8 1943.1,983.0 1943.9,999.6 1944.8,1030.3 1945.6,1025.9 1946.4,1025.4 1947.2,1058.0 1948.1,1046.5 1948.9,1046.3 1949.7,1035.8 1950.5,1068.9 1951.3,1065.0 1952.2,1044.4 1953.0,1065.3 1953.8,1063.7 1954.6,1072.4 1955.5,1059.6 1956.3,1084.5 1957.1,1038.3 1957.9,1043.1 1958.7,1069.6 1959.6,1072.7 1960.4,1067.9 1961.2,1090.7 1962.0,1068.4 1962.9,1046.3 1963.7,1083.1 1964.5,1066.9 1965.3,1062.0 1966.2,1073.5 1967.0,1073.6 1967.8,1062.7 1968.6,1076.8 1969.4,1072.3 1970.3,1066.2 1971.1,1066.7 1971.9,1044.6 1972.7,1057.9 1973.6,1058.7 1974.4,1063.1 1975.2,1084.3 1976.0,1067.3 1976.8,1062.6 1977.7,1051.7 1978.5,1061.1 1979.3,1055.4 1980.1,1054.5 1981.0,1065.8 1981.8,1046.9 1982.6,1057.2 1983.4,1076.3 1984.3,1066.4 1985.1,1055.1 1985.9,1059.1 1986.7,1056.8 1987.5,1079.1 1988.4,1078.1 1989.2,1082.7 1990.0,1059.4 1990.8,1062.3 1991.7,1072.9 1992.5,1050.6 1993.3,1057.0 1994.1,1074.7 1995.0,1057.0 1995.8,1054.0 1996.6,1069.1 1997.4,1060.6 1998.2,1056.5 1999.1,1064.9 1999.9,1043.9 2000.7,1071.7 2001.5,1065.7 2002.4,1067.6 2003.2,1066.0 2004.0,1071.4 2004.8,1043.8 2005.6,1064.2 2006.5,1079.8 2007.3,1055.3 2008.1,1053.4 2008.9,1055.0 2009.8,1046.4 2010.6,1091.7 2011.4,1059.2 2012.2,1070.3 2013.1,1050.5 2013.9,1053.2 2014.7,1050.4 2015.5,1043.7 2016.3,1055.0 2017.2,1073.8 2018.0,1052.7 2018.8,1072.2 2019.6,1083.5 2020.5,1066.6 2021.3,1075.3 2022.1,1077.1 2022.9,1056.0 2023.7,1057.5 2024.6,1043.0 2025.4,1057.9 2026.2,1076.7 2027.0,1066.6 2027.9,1061.8 2028.7,1058.5 2029.5,1054.3 2030.3,1059.3 2031.2,1090.4 2032.0,1079.0 2032.8,1068.1 2033.6,1062.3 2034.4,1057.4 2035.3,1076.9 2036.1,1060.0 2036.9,1061.4 2037.7,1062.3 2038.6,1081.0 2039.4,1067.9 2040.2,1084.7 2041.0,1057.8 2041.9,1057.4 2042.7,1052.4 2043.5,1067.3 2044.3,1052.4 2045.1,1059.5 2046.0,1080.9 2046.8,1071.7 2047.6,1061.9 2048.4,1062.5 2049.3,1027.5 2050.1,1038.6 2050.9,1070.7 2051.7,1050.7 2052.5,1053.1 2053.4,1071.9 2054.2,1047.3 2055.0,1063.8 2055.8,1058.8 2056.7,1064.3 2057.5,1061.7 2058.3,1082.2 2059.1,1070.8 2060.0,1080.5 2060.8,1054.9 2061.6,1061.5 2062.4,1066.6 2063.2,1081.9 2064.1,1073.1 2064.9,1061.0 2065.7,1047.7 2066.5,1062.2 2067.4,1048.5 2068.2,1049.5 2069.0,1054.0 2069.8,1056.0 2070.6,1053.5 2071.5,1074.0 2072.3,1059.8 2073.1,1049.2 2073.9,1061.3 2074.8,1043.1 2075.6,1065.1 2076.4,1067.8 2077.2,1068.6 2078.1,1048.8 2078.9,1072.3 2079.7,1071.1 2080.5,1082.3 2081.3,1068.5 2082.2,1062.2 2083.0,1059.6 2083.8,1054.7 2084.6,1051.7 2085.5,1054.4 2086.3,1073.7 2087.1,1060.2 2087.9,1062.6 2088.8,1057.5 2089.6,1067.3 2090.4,1072.5 2091.2,1071.3 2092.0,1050.8 2092.9,1061.5 2093.7,1088.1 2094.5,1068.5 2095.3,1063.8 2096.2,1058.0 2097.0,1047.4 2097.8,1043.0 2098.6,1059.8 2099.4,1064.0 2100.3,1053.8 2101.1,1061.9 2101.9,1069.6 2102.7,1069.3 2103.6,1076.1 2104.4,1046.6 2105.2,1065.8 2106.0,1069.9 2106.9,1065.0 2107.7,1049.3 2108.5,1045.7 2109.3,1082.4 2110.1,1056.8 2111.0,1066.6 2111.8,1056.5 2112.6,1054.5 2113.4,1068.1 2114.3,1073.6 2115.1,1062.8 2115.9,1060.5 2116.7,1073.2 2117.5,1061.3 2118.4,1060.9 2119.2,1057.5 2120.0,1066.0 2120.8,1061.7 2121.7,1060.9 2122.5,1059.6 2123.3,1065.2 2124.1,1076.0 2125.0,1061.6 2125.8,1053.4 2126.6,1086.9 2127.4,1074.0 2128.2,1057.4 2129.1,1043.7 2129.9,1076.0 2130.7,1054.0 2131.5,1061.9 2132.4,1033.2 2133.2,1070.4 2134.0,1074.9 2134.8,1060.2 2135.7,1059.3 2136.5,1061.1 2137.3,1048.2 2138.1,1049.0 2138.9,1073.4 2139.8,1058.3 2140.6,1061.8 2141.4,1060.7 2142.2,1071.0 2143.1,1061.4 2143.9,1068.3 2144.7,1070.2 2145.5,1056.3 2146.3,1061.0 2147.2,1067.4 2148.0,1072.9 2148.8,1067.2 2149.6,1068.1 2150.5,1051.9 2151.3,1057.8 2152.1,1067.3 2152.9,1060.1 2153.8,1062.3 2154.6,1064.0 2155.4,1080.2 2156.2,1053.3 2157.0,1073.1 2157.9,1071.3 2158.7,1066.6 2159.5,1056.0 2160.3,1064.1 2161.2,1058.5 2162.0,1073.1 2162.8,1064.2 2163.6,1065.8 2164.4,1054.8 2165.3,1077.7 2166.1,1042.9 2166.9,1090.3 2167.7,1053.2 2168.6,1057.3 2169.4,1058.9 2170.2,1047.8 2171.0,1074.7 2171.9,1055.5 2172.7,1053.5 2173.5,1074.8 2174.3,1069.5 2175.1,1044.6 2176.0,1048.0 2176.8,1063.1 2177.6,1065.3 2178.4,1071.0 2179.3,1063.0 2180.1,1078.5 2180.9,1077.2 2181.7,1070.2 2182.5,1066.4 2183.4,1078.6 2184.2,1081.8 2185.0,1069.8 2185.8,1066.3 2186.7,1075.4 2187.5,1061.7 2188.3,1071.3 2189.1,1076.0 2190.0,1055.7 2190.8,1059.4 2191.6,1046.8 2192.4,1061.8 2193.2,1073.5 2194.1,1063.2 2194.9,1073.7 2195.7,1069.1 2196.5,1060.4 2197.4,1083.9 2198.2,1067.6 2199.0,1080.4 2199.8,1074.4 2200.7,1069.5 2201.5,1089.1 2202.3,1066.5 2203.1,1064.0 2203.9,1085.1 2204.8,1075.3 2205.6,1063.2 2206.4,1067.5 2207.2,1057.7 2208.1,1078.0 2208.9,1084.5 2209.7,1077.9 2210.5,1080.3 2211.3,1086.9 2212.2,1074.8 2213.0,1065.0 2213.8,1065.8 2214.6,1077.5 2215.5,1076.1 2216.3,1076.0 2217.1,1061.4 2217.9,1073.6 2218.8,1089.6 2219.6,1074.8 2220.4,1087.3 2221.2,1077.7 2222.0,1071.7 2222.9,1087.4 2223.7,1093.3 2224.5,1082.4 2225.3,1089.0 2226.2,1071.0 2227.0,1063.8 2227.8,1056.3 2228.6,1076.3 2229.4,1092.1 2230.3,1070.1 2231.1,1060.7 2231.9,1076.8 2232.7,1076.1 2233.6,1075.5 2234.4,1064.9 2235.2,1092.3 2236.0,1068.9 2236.9,1073.0 2237.7,1058.3 2238.5,1081.2"/>
<g id="labels" fill="#000">
<text class="sans" transform="translate(731.48,127.30) scale(0.9554,1)" xml:space="preserve"><tspan font-size="78" dy="-0.5">(</tspan><tspan font-size="81.2" dy="0.5">311</tspan><tspan font-size="78" dy="-0.5">)</tspan></text>
<g transform="translate(731.48,127.30) scale(0.9554,1)" fill="#fff"><rect x="74.25" y="-9.99" width="15.84" height="10.89"/><rect x="101.23" y="-9.99" width="14.81" height="10.89"/><rect x="119.41" y="-9.99" width="15.84" height="10.89"/><rect x="146.39" y="-9.99" width="14.81" height="10.89"/></g>
<text class="sans" transform="translate(1050.21,667.80) scale(0.9484,1)" xml:space="preserve"><tspan font-size="78.2" dy="-0.3">(</tspan><tspan font-size="81" dy="0.3">400</tspan><tspan font-size="78.2" dy="-0.3">)</tspan></text>
<text class="sans" transform="translate(1481.60,748.90) scale(0.9417,1)" xml:space="preserve"><tspan font-size="70.4" dy="-0.8">(</tspan><tspan font-size="74.2" dy="0.8">422</tspan><tspan font-size="70.4" dy="-0.8">)</tspan></text>
<text class="sans" transform="translate(1629.58,594.90) scale(0.9481,1)" xml:space="preserve"><tspan font-size="70.4" dy="-0.8">(</tspan><tspan font-size="74.8" dy="0.8">511</tspan><tspan font-size="70.4" dy="-0.8">)</tspan></text>
<g transform="translate(1629.58,594.90) scale(0.9481,1)" fill="#fff"><rect x="67.76" y="-9.33" width="14.75" height="10.23"/><rect x="92.77" y="-9.33" width="13.80" height="10.23"/><rect x="109.36" y="-9.33" width="14.75" height="10.23"/><rect x="134.37" y="-9.33" width="13.80" height="10.23"/></g>
<text class="sans" transform="translate(1856.45,543.90) scale(0.9420,1)" xml:space="preserve"><tspan font-size="70.4" dy="-0.8">(</tspan><tspan font-size="74.2" dy="0.8">440</tspan><tspan font-size="70.4" dy="-0.8">)</tspan></text>
<text class="sans" transform="translate(2107.30,755.00) scale(1.0005,1)" xml:space="preserve"><tspan font-size="89.8" dy="-0.9">(</tspan><tspan font-size="90.6" dy="0.9">c</tspan><tspan font-size="89.8" dy="-0.9">)</tspan></text>
<text class="sans" transform="translate(2102.30,1002.90) scale(1.0005,1)" xml:space="preserve"><tspan font-size="89.8" dy="-0.8">(</tspan><tspan font-size="90.9" dy="0.8">b</tspan><tspan font-size="89.8" dy="-0.8">)</tspan></text>
<text class="sans" transform="translate(2112.50,1327.90) scale(0.9995,1)" xml:space="preserve"><tspan font-size="89.8" dy="-0.8">(</tspan><tspan font-size="90.7" dy="0.8">a</tspan><tspan font-size="89.8" dy="-0.8">)</tspan></text>
<text class="serif" transform="translate(524.94,555.80) scale(0.9891,1)" xml:space="preserve"><tspan font-size="79.7">(220)</tspan></text>
<text class="serif" transform="translate(141.32,1673.30)" xml:space="preserve"><tspan font-size="80.8">20</tspan></text>
<text class="serif" transform="translate(551.58,1673.30)" xml:space="preserve"><tspan font-size="80.8">30</tspan></text>
<text class="serif" transform="translate(965.42,1673.30)" xml:space="preserve"><tspan font-size="80.8">40</tspan></text>
<text class="serif" transform="translate(1376.15,1673.30)" xml:space="preserve"><tspan font-size="80.8">50</tspan></text>
<text class="serif" transform="translate(1787.40,1673.30)" xml:space="preserve"><tspan font-size="80.8">60</tspan></text>
<text class="serif" transform="translate(2198.38,1673.30)" xml:space="preserve"><tspan font-size="80.8">70</tspan></text>
<text class="sans" transform="translate(953.98,1822.80) scale(0.9602,1)" xml:space="preserve"><tspan font-size="91.2">2 Theta </tspan></text>
<text class="sans" transform="translate(1287.16,1822.00) scale(0.8752,1)" xml:space="preserve"><tspan font-size="89.7">( </tspan></text>
<text class="deg" transform="translate(1365.02,1803.60) scale(0.9918,1)" xml:space="preserve"><tspan font-size="60.3">° </tspan></text>
<text class="sans" transform="translate(1442.88,1822.00) scale(0.8752,1)" xml:space="preserve"><tspan font-size="89.7">)</tspan></text>
<text class="sans" transform="translate(86.10,1080.31) rotate(-90) scale(0.9922,1)" xml:space="preserve"><tspan font-size="86.6">Intensity </tspan><tspan font-size="84.4" dy="-0.8">(</tspan><tspan font-size="86.6" dy="0.8">a.u.</tspan><tspan font-size="84.4" dy="-0.8">)</tspan></text>
</g>
</svg>
</body>
</html>
